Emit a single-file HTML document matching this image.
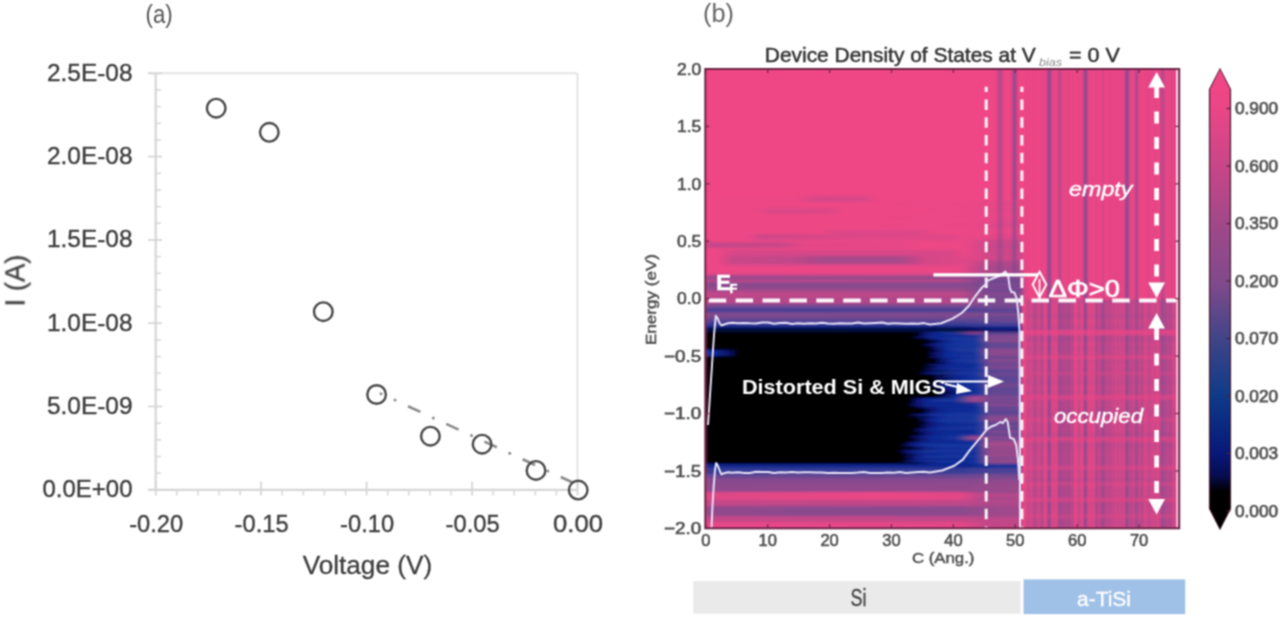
<!DOCTYPE html>
<html><head><meta charset="utf-8"><style>
html,body{margin:0;padding:0;background:#fff;width:1280px;height:618px;overflow:hidden}
svg{display:block}
text{font-family:"Liberation Sans",sans-serif}
</style></head><body>
<svg width="1280" height="618" viewBox="0 0 1280 618">
<defs>
<filter id="blur1" x="-5%" y="-5%" width="110%" height="110%"><feGaussianBlur stdDeviation="0.8"/></filter>
<filter id="blurv" x="-2%" y="-2%" width="104%" height="104%"><feGaussianBlur stdDeviation="2.2 0.9"/></filter>
<filter id="blur2" x="-5%" y="-5%" width="110%" height="110%"><feGaussianBlur stdDeviation="2"/></filter>
<linearGradient id="blobgrad" x1="705" y1="0" x2="995" y2="0" gradientUnits="userSpaceOnUse">
<stop offset="0" stop-color="#000"/><stop offset="0.62" stop-color="#000"/><stop offset="0.74" stop-color="#0a1890"/><stop offset="0.86" stop-color="#1e3aa0"/><stop offset="1" stop-color="#5a4aa0" stop-opacity="0.6"/>
</linearGradient>
<linearGradient id="midgrad" x1="0" y1="69" x2="0" y2="528" gradientUnits="userSpaceOnUse">
<stop offset="0" stop-color="#8a4a9c" stop-opacity="0.15"/><stop offset="0.35" stop-color="#8a4a9c" stop-opacity="0.3"/><stop offset="0.5" stop-color="#8a4a9c" stop-opacity="0.7"/><stop offset="1" stop-color="#8a4a9c" stop-opacity="0.6"/>
</linearGradient>
</defs>
<filter id="soft" filterUnits="userSpaceOnUse" x="0" y="0" width="1280" height="618" color-interpolation-filters="sRGB"><feConvolveMatrix order="3" kernelMatrix="1 2 1 2 4 2 1 2 1" divisor="16" edgeMode="duplicate"/></filter>
<rect width="1280" height="618" fill="#fff"/>
<g filter="url(#soft)">
<g id="left">
<line x1="148" y1="73.3" x2="577.5" y2="73.3" stroke="#e4e4e4" stroke-width="2"/>
<line x1="577.5" y1="73.3" x2="577.5" y2="489.8" stroke="#e4e4e4" stroke-width="2"/>
<line x1="155.7" y1="73.3" x2="155.7" y2="489.8" stroke="#d6d6d6" stroke-width="2.2"/>
<line x1="148" y1="489.8" x2="577.5" y2="489.8" stroke="#d6d6d6" stroke-width="2.2"/>
<line x1="148" y1="73.3" x2="162" y2="73.3" stroke="#d6d6d6" stroke-width="1.8"/>
<line x1="155.7" y1="90.0" x2="161" y2="90.0" stroke="#d6d6d6" stroke-width="1.5"/>
<line x1="155.7" y1="106.6" x2="161" y2="106.6" stroke="#d6d6d6" stroke-width="1.5"/>
<line x1="155.7" y1="123.3" x2="161" y2="123.3" stroke="#d6d6d6" stroke-width="1.5"/>
<line x1="155.7" y1="139.9" x2="161" y2="139.9" stroke="#d6d6d6" stroke-width="1.5"/>
<line x1="148" y1="156.6" x2="162" y2="156.6" stroke="#d6d6d6" stroke-width="1.8"/>
<line x1="155.7" y1="173.3" x2="161" y2="173.3" stroke="#d6d6d6" stroke-width="1.5"/>
<line x1="155.7" y1="189.9" x2="161" y2="189.9" stroke="#d6d6d6" stroke-width="1.5"/>
<line x1="155.7" y1="206.6" x2="161" y2="206.6" stroke="#d6d6d6" stroke-width="1.5"/>
<line x1="155.7" y1="223.2" x2="161" y2="223.2" stroke="#d6d6d6" stroke-width="1.5"/>
<line x1="148" y1="239.9" x2="162" y2="239.9" stroke="#d6d6d6" stroke-width="1.8"/>
<line x1="155.7" y1="256.6" x2="161" y2="256.6" stroke="#d6d6d6" stroke-width="1.5"/>
<line x1="155.7" y1="273.2" x2="161" y2="273.2" stroke="#d6d6d6" stroke-width="1.5"/>
<line x1="155.7" y1="289.9" x2="161" y2="289.9" stroke="#d6d6d6" stroke-width="1.5"/>
<line x1="155.7" y1="306.5" x2="161" y2="306.5" stroke="#d6d6d6" stroke-width="1.5"/>
<line x1="148" y1="323.2" x2="162" y2="323.2" stroke="#d6d6d6" stroke-width="1.8"/>
<line x1="155.7" y1="339.9" x2="161" y2="339.9" stroke="#d6d6d6" stroke-width="1.5"/>
<line x1="155.7" y1="356.5" x2="161" y2="356.5" stroke="#d6d6d6" stroke-width="1.5"/>
<line x1="155.7" y1="373.2" x2="161" y2="373.2" stroke="#d6d6d6" stroke-width="1.5"/>
<line x1="155.7" y1="389.8" x2="161" y2="389.8" stroke="#d6d6d6" stroke-width="1.5"/>
<line x1="148" y1="406.5" x2="162" y2="406.5" stroke="#d6d6d6" stroke-width="1.8"/>
<line x1="155.7" y1="423.2" x2="161" y2="423.2" stroke="#d6d6d6" stroke-width="1.5"/>
<line x1="155.7" y1="439.8" x2="161" y2="439.8" stroke="#d6d6d6" stroke-width="1.5"/>
<line x1="155.7" y1="456.5" x2="161" y2="456.5" stroke="#d6d6d6" stroke-width="1.5"/>
<line x1="155.7" y1="473.1" x2="161" y2="473.1" stroke="#d6d6d6" stroke-width="1.5"/>
<line x1="148" y1="489.8" x2="162" y2="489.8" stroke="#d6d6d6" stroke-width="1.8"/>
<line x1="155.7" y1="481.5" x2="155.7" y2="495.5" stroke="#d6d6d6" stroke-width="1.8"/>
<line x1="176.8" y1="489.8" x2="176.8" y2="495.5" stroke="#d6d6d6" stroke-width="1.5"/>
<line x1="197.9" y1="489.8" x2="197.9" y2="495.5" stroke="#d6d6d6" stroke-width="1.5"/>
<line x1="219.0" y1="489.8" x2="219.0" y2="495.5" stroke="#d6d6d6" stroke-width="1.5"/>
<line x1="240.1" y1="489.8" x2="240.1" y2="495.5" stroke="#d6d6d6" stroke-width="1.5"/>
<line x1="261.1" y1="481.5" x2="261.1" y2="495.5" stroke="#d6d6d6" stroke-width="1.8"/>
<line x1="282.2" y1="489.8" x2="282.2" y2="495.5" stroke="#d6d6d6" stroke-width="1.5"/>
<line x1="303.3" y1="489.8" x2="303.3" y2="495.5" stroke="#d6d6d6" stroke-width="1.5"/>
<line x1="324.4" y1="489.8" x2="324.4" y2="495.5" stroke="#d6d6d6" stroke-width="1.5"/>
<line x1="345.5" y1="489.8" x2="345.5" y2="495.5" stroke="#d6d6d6" stroke-width="1.5"/>
<line x1="366.6" y1="481.5" x2="366.6" y2="495.5" stroke="#d6d6d6" stroke-width="1.8"/>
<line x1="387.7" y1="489.8" x2="387.7" y2="495.5" stroke="#d6d6d6" stroke-width="1.5"/>
<line x1="408.8" y1="489.8" x2="408.8" y2="495.5" stroke="#d6d6d6" stroke-width="1.5"/>
<line x1="429.9" y1="489.8" x2="429.9" y2="495.5" stroke="#d6d6d6" stroke-width="1.5"/>
<line x1="451.0" y1="489.8" x2="451.0" y2="495.5" stroke="#d6d6d6" stroke-width="1.5"/>
<line x1="472.1" y1="481.5" x2="472.1" y2="495.5" stroke="#d6d6d6" stroke-width="1.8"/>
<line x1="493.1" y1="489.8" x2="493.1" y2="495.5" stroke="#d6d6d6" stroke-width="1.5"/>
<line x1="514.2" y1="489.8" x2="514.2" y2="495.5" stroke="#d6d6d6" stroke-width="1.5"/>
<line x1="535.3" y1="489.8" x2="535.3" y2="495.5" stroke="#d6d6d6" stroke-width="1.5"/>
<line x1="556.4" y1="489.8" x2="556.4" y2="495.5" stroke="#d6d6d6" stroke-width="1.5"/>
<line x1="577.5" y1="481.5" x2="577.5" y2="495.5" stroke="#d6d6d6" stroke-width="1.8"/>
<text x="132.5" y="80.7" text-anchor="end" font-size="24" fill="#3d3d3d" stroke="#3d3d3d" stroke-width="0.35" textLength="85.5" lengthAdjust="spacingAndGlyphs">2.5E-08</text>
<text x="132.5" y="164.0" text-anchor="end" font-size="24" fill="#3d3d3d" stroke="#3d3d3d" stroke-width="0.35" textLength="85.5" lengthAdjust="spacingAndGlyphs">2.0E-08</text>
<text x="132.5" y="247.3" text-anchor="end" font-size="24" fill="#3d3d3d" stroke="#3d3d3d" stroke-width="0.35" textLength="85.5" lengthAdjust="spacingAndGlyphs">1.5E-08</text>
<text x="132.5" y="330.6" text-anchor="end" font-size="24" fill="#3d3d3d" stroke="#3d3d3d" stroke-width="0.35" textLength="85.5" lengthAdjust="spacingAndGlyphs">1.0E-08</text>
<text x="132.5" y="413.9" text-anchor="end" font-size="24" fill="#3d3d3d" stroke="#3d3d3d" stroke-width="0.35" textLength="85.5" lengthAdjust="spacingAndGlyphs">5.0E-09</text>
<text x="132.5" y="497.2" text-anchor="end" font-size="24" fill="#3d3d3d" stroke="#3d3d3d" stroke-width="0.35" textLength="90" lengthAdjust="spacingAndGlyphs">0.0E+00</text>
<text x="156.2" y="532" text-anchor="middle" font-size="24" fill="#3d3d3d" stroke="#3d3d3d" stroke-width="0.35" textLength="54" lengthAdjust="spacingAndGlyphs">-0.20</text>
<text x="261.6" y="532" text-anchor="middle" font-size="24" fill="#3d3d3d" stroke="#3d3d3d" stroke-width="0.35" textLength="54" lengthAdjust="spacingAndGlyphs">-0.15</text>
<text x="367.1" y="532" text-anchor="middle" font-size="24" fill="#3d3d3d" stroke="#3d3d3d" stroke-width="0.35" textLength="54" lengthAdjust="spacingAndGlyphs">-0.10</text>
<text x="472.6" y="532" text-anchor="middle" font-size="24" fill="#3d3d3d" stroke="#3d3d3d" stroke-width="0.35" textLength="54" lengthAdjust="spacingAndGlyphs">-0.05</text>
<text x="578.0" y="532" text-anchor="middle" font-size="24" fill="#3d3d3d" stroke="#3d3d3d" stroke-width="0.35" textLength="50" lengthAdjust="spacingAndGlyphs">0.00</text>
<text x="367.4" y="574" text-anchor="middle" font-size="26" fill="#3d3d3d" stroke="#3d3d3d" stroke-width="0.3" textLength="129.5" lengthAdjust="spacingAndGlyphs">Voltage (V)</text>
<text transform="translate(24.5,280.5) rotate(-90)" text-anchor="middle" font-size="27" fill="#3d3d3d" stroke="#3d3d3d" stroke-width="0.3" textLength="52" lengthAdjust="spacingAndGlyphs">I (A)</text>
<text x="145.5" y="23" font-family="Liberation Serif" font-size="25" fill="#555" textLength="27.2" lengthAdjust="spacingAndGlyphs">(a)</text>
<circle cx="381" cy="393.7" r="1.5" fill="#8a8a8a"/>
<circle cx="395" cy="400.1" r="1.5" fill="#8a8a8a"/>
<line x1="408.0" y1="406.2" x2="420.4" y2="411.9" stroke="#8a8a8a" stroke-width="2.6"/>
<circle cx="433.3" cy="417.9" r="1.5" fill="#8a8a8a"/>
<line x1="446.2" y1="423.9" x2="458.6" y2="429.6" stroke="#8a8a8a" stroke-width="2.6"/>
<circle cx="471.5" cy="435.6" r="1.5" fill="#8a8a8a"/>
<line x1="484.4" y1="441.6" x2="496.8" y2="447.3" stroke="#8a8a8a" stroke-width="2.6"/>
<circle cx="509.7" cy="453.3" r="1.5" fill="#8a8a8a"/>
<line x1="522.6" y1="459.3" x2="535.0" y2="465.0" stroke="#8a8a8a" stroke-width="2.6"/>
<circle cx="547.9" cy="471.0" r="1.5" fill="#8a8a8a"/>
<line x1="560.8" y1="477.0" x2="573.2" y2="482.7" stroke="#8a8a8a" stroke-width="2.6"/>
<circle cx="216.2" cy="108.2" r="9.3" fill="none" stroke="#474747" stroke-width="2.4"/>
<circle cx="269.3" cy="132.3" r="9.3" fill="none" stroke="#474747" stroke-width="2.4"/>
<circle cx="323.3" cy="311.7" r="9.3" fill="none" stroke="#474747" stroke-width="2.4"/>
<circle cx="376.6" cy="394.5" r="9.3" fill="none" stroke="#474747" stroke-width="2.4"/>
<circle cx="430.4" cy="436.2" r="9.3" fill="none" stroke="#474747" stroke-width="2.4"/>
<circle cx="482.1" cy="444.2" r="9.3" fill="none" stroke="#474747" stroke-width="2.4"/>
<circle cx="536" cy="470.4" r="9.3" fill="none" stroke="#474747" stroke-width="2.4"/>
<circle cx="578.2" cy="490.1" r="9.3" fill="none" stroke="#474747" stroke-width="2.4"/>
</g>
<g id="right">
<clipPath id="hmclip"><rect x="705.3" y="69.0" width="473.9000000000001" height="459.29999999999995"/></clipPath>
<g clip-path="url(#hmclip)">
<rect x="705.3" y="69.0" width="470.70000000000005" height="459.29999999999995" fill="#ef4685"/>
<rect x="1176" y="69.0" width="3.2000000000000455" height="459.29999999999995" fill="#f6d6e4"/>
<defs><linearGradient id="r0" x1="705" x2="1023" y1="0" y2="0" gradientUnits="userSpaceOnUse"><stop offset="0.000" stop-color="#ef4685"/><stop offset="0.283" stop-color="#ec4686"/><stop offset="0.358" stop-color="#d64687"/><stop offset="0.491" stop-color="#d84687"/><stop offset="0.557" stop-color="#ef4685"/><stop offset="1.000" stop-color="#ef4685"/></linearGradient>
<linearGradient id="r1" x1="705" x2="1023" y1="0" y2="0" gradientUnits="userSpaceOnUse"><stop offset="0.000" stop-color="#ef4685"/><stop offset="0.283" stop-color="#ec4686"/><stop offset="0.358" stop-color="#d64687"/><stop offset="0.491" stop-color="#d84687"/><stop offset="0.557" stop-color="#ef4685"/><stop offset="1.000" stop-color="#ef4685"/></linearGradient>
<linearGradient id="r2" x1="705" x2="1023" y1="0" y2="0" gradientUnits="userSpaceOnUse"><stop offset="0.000" stop-color="#ef4685"/><stop offset="0.283" stop-color="#ec4686"/><stop offset="0.358" stop-color="#d64687"/><stop offset="0.491" stop-color="#d84687"/><stop offset="0.557" stop-color="#ef4685"/><stop offset="0.868" stop-color="#ea4686"/><stop offset="1.000" stop-color="#e84686"/></linearGradient>
<linearGradient id="r3" x1="705" x2="1023" y1="0" y2="0" gradientUnits="userSpaceOnUse"><stop offset="0.000" stop-color="#ef4685"/><stop offset="0.830" stop-color="#eb4686"/><stop offset="0.915" stop-color="#e04687"/><stop offset="1.000" stop-color="#e04687"/></linearGradient>
<linearGradient id="r4" x1="705" x2="1023" y1="0" y2="0" gradientUnits="userSpaceOnUse"><stop offset="0.000" stop-color="#ef4685"/><stop offset="0.840" stop-color="#eb4686"/><stop offset="0.972" stop-color="#e44686"/><stop offset="1.000" stop-color="#e44686"/></linearGradient>
<linearGradient id="r5" x1="705" x2="1023" y1="0" y2="0" gradientUnits="userSpaceOnUse"><stop offset="0.000" stop-color="#ef4685"/><stop offset="0.849" stop-color="#eb4686"/><stop offset="1.000" stop-color="#e64686"/></linearGradient>
<linearGradient id="r6" x1="705" x2="1023" y1="0" y2="0" gradientUnits="userSpaceOnUse"><stop offset="0.000" stop-color="#ef4685"/><stop offset="0.160" stop-color="#eb4686"/><stop offset="0.217" stop-color="#da4687"/><stop offset="0.387" stop-color="#de4687"/><stop offset="0.443" stop-color="#ef4685"/><stop offset="0.840" stop-color="#eb4686"/><stop offset="0.953" stop-color="#e34686"/><stop offset="1.000" stop-color="#e34686"/></linearGradient>
<linearGradient id="r7" x1="705" x2="1023" y1="0" y2="0" gradientUnits="userSpaceOnUse"><stop offset="0.000" stop-color="#ef4685"/><stop offset="0.160" stop-color="#eb4686"/><stop offset="0.217" stop-color="#da4687"/><stop offset="0.387" stop-color="#de4687"/><stop offset="0.443" stop-color="#ef4685"/><stop offset="0.840" stop-color="#eb4686"/><stop offset="0.925" stop-color="#e24687"/><stop offset="1.000" stop-color="#e24687"/></linearGradient>
<linearGradient id="r8" x1="705" x2="1023" y1="0" y2="0" gradientUnits="userSpaceOnUse"><stop offset="0.000" stop-color="#ef4685"/><stop offset="0.160" stop-color="#eb4686"/><stop offset="0.217" stop-color="#da4687"/><stop offset="0.387" stop-color="#de4687"/><stop offset="0.443" stop-color="#ef4685"/><stop offset="0.840" stop-color="#eb4686"/><stop offset="1.000" stop-color="#e54686"/></linearGradient>
<linearGradient id="r9" x1="705" x2="1023" y1="0" y2="0" gradientUnits="userSpaceOnUse"><stop offset="0.000" stop-color="#ef4685"/><stop offset="0.840" stop-color="#eb4686"/><stop offset="0.981" stop-color="#e54686"/><stop offset="1.000" stop-color="#e54686"/></linearGradient>
<linearGradient id="r10" x1="705" x2="1023" y1="0" y2="0" gradientUnits="userSpaceOnUse"><stop offset="0.000" stop-color="#ef4685"/><stop offset="0.858" stop-color="#eb4686"/><stop offset="1.000" stop-color="#e84686"/></linearGradient>
<linearGradient id="r11" x1="705" x2="1023" y1="0" y2="0" gradientUnits="userSpaceOnUse"><stop offset="0.000" stop-color="#ef4685"/><stop offset="0.840" stop-color="#eb4686"/><stop offset="0.943" stop-color="#e44686"/><stop offset="1.000" stop-color="#e44686"/></linearGradient>
<linearGradient id="r12" x1="705" x2="1023" y1="0" y2="0" gradientUnits="userSpaceOnUse"><stop offset="0.000" stop-color="#ef4685"/><stop offset="0.830" stop-color="#ec4686"/><stop offset="0.915" stop-color="#e14687"/><stop offset="1.000" stop-color="#e14687"/></linearGradient>
<linearGradient id="r13" x1="705" x2="1023" y1="0" y2="0" gradientUnits="userSpaceOnUse"><stop offset="0.000" stop-color="#ef4685"/><stop offset="0.840" stop-color="#eb4686"/><stop offset="0.934" stop-color="#e34687"/><stop offset="1.000" stop-color="#e34687"/></linearGradient>
<linearGradient id="r14" x1="705" x2="1023" y1="0" y2="0" gradientUnits="userSpaceOnUse"><stop offset="0.000" stop-color="#ef4685"/><stop offset="0.830" stop-color="#eb4686"/><stop offset="0.906" stop-color="#df4687"/><stop offset="1.000" stop-color="#df4687"/></linearGradient>
<linearGradient id="r15" x1="705" x2="1023" y1="0" y2="0" gradientUnits="userSpaceOnUse"><stop offset="0.000" stop-color="#ef4685"/><stop offset="0.830" stop-color="#eb4686"/><stop offset="0.906" stop-color="#df4687"/><stop offset="1.000" stop-color="#df4687"/></linearGradient>
<linearGradient id="r16" x1="705" x2="1023" y1="0" y2="0" gradientUnits="userSpaceOnUse"><stop offset="0.000" stop-color="#ef4685"/><stop offset="0.849" stop-color="#eb4686"/><stop offset="1.000" stop-color="#e64686"/></linearGradient>
<linearGradient id="r17" x1="705" x2="1023" y1="0" y2="0" gradientUnits="userSpaceOnUse"><stop offset="0.000" stop-color="#ef4685"/><stop offset="0.358" stop-color="#ec4686"/><stop offset="0.425" stop-color="#da4687"/><stop offset="0.670" stop-color="#de4687"/><stop offset="0.726" stop-color="#ef4685"/><stop offset="1.000" stop-color="#e94686"/></linearGradient>
<linearGradient id="r18" x1="705" x2="1023" y1="0" y2="0" gradientUnits="userSpaceOnUse"><stop offset="0.000" stop-color="#ef4685"/><stop offset="0.358" stop-color="#ec4686"/><stop offset="0.425" stop-color="#da4687"/><stop offset="0.670" stop-color="#de4687"/><stop offset="0.726" stop-color="#ef4685"/><stop offset="1.000" stop-color="#e74686"/></linearGradient>
<linearGradient id="r19" x1="705" x2="1023" y1="0" y2="0" gradientUnits="userSpaceOnUse"><stop offset="0.000" stop-color="#ef4685"/><stop offset="0.132" stop-color="#ec4686"/><stop offset="0.179" stop-color="#ce4688"/><stop offset="0.349" stop-color="#d94687"/><stop offset="0.538" stop-color="#de4687"/><stop offset="0.774" stop-color="#e04687"/><stop offset="0.821" stop-color="#ed4685"/><stop offset="0.934" stop-color="#e44686"/><stop offset="1.000" stop-color="#e44686"/></linearGradient>
<linearGradient id="r20" x1="705" x2="1023" y1="0" y2="0" gradientUnits="userSpaceOnUse"><stop offset="0.000" stop-color="#ef4685"/><stop offset="0.132" stop-color="#ec4686"/><stop offset="0.179" stop-color="#ce4688"/><stop offset="0.349" stop-color="#d94687"/><stop offset="0.538" stop-color="#de4687"/><stop offset="0.774" stop-color="#e04687"/><stop offset="0.821" stop-color="#ed4685"/><stop offset="0.915" stop-color="#df4687"/><stop offset="1.000" stop-color="#df4687"/></linearGradient>
<linearGradient id="r21" x1="705" x2="1023" y1="0" y2="0" gradientUnits="userSpaceOnUse"><stop offset="0.000" stop-color="#ef4685"/><stop offset="0.132" stop-color="#ec4686"/><stop offset="0.179" stop-color="#ce4688"/><stop offset="0.349" stop-color="#d94687"/><stop offset="0.538" stop-color="#de4687"/><stop offset="0.774" stop-color="#e04687"/><stop offset="0.821" stop-color="#ed4685"/><stop offset="0.925" stop-color="#e24687"/><stop offset="1.000" stop-color="#e24687"/></linearGradient>
<linearGradient id="r22" x1="705" x2="1023" y1="0" y2="0" gradientUnits="userSpaceOnUse"><stop offset="0.000" stop-color="#ef4685"/><stop offset="0.811" stop-color="#ec4686"/><stop offset="0.887" stop-color="#c34789"/><stop offset="1.000" stop-color="#c14789"/></linearGradient>
<linearGradient id="r23" x1="705" x2="1023" y1="0" y2="0" gradientUnits="userSpaceOnUse"><stop offset="0.000" stop-color="#d44688"/><stop offset="0.028" stop-color="#c34789"/><stop offset="0.236" stop-color="#c84688"/><stop offset="0.311" stop-color="#e34687"/><stop offset="0.623" stop-color="#e64686"/><stop offset="0.689" stop-color="#ef4685"/><stop offset="0.821" stop-color="#eb4686"/><stop offset="0.896" stop-color="#d44688"/><stop offset="1.000" stop-color="#d44688"/></linearGradient>
<linearGradient id="r24" x1="705" x2="1023" y1="0" y2="0" gradientUnits="userSpaceOnUse"><stop offset="0.000" stop-color="#d44688"/><stop offset="0.028" stop-color="#c34789"/><stop offset="0.236" stop-color="#c84688"/><stop offset="0.311" stop-color="#e34687"/><stop offset="0.623" stop-color="#e64686"/><stop offset="0.689" stop-color="#ef4685"/><stop offset="0.811" stop-color="#ec4686"/><stop offset="0.887" stop-color="#c74688"/><stop offset="1.000" stop-color="#c64688"/></linearGradient>
<linearGradient id="r25" x1="705" x2="1023" y1="0" y2="0" gradientUnits="userSpaceOnUse"><stop offset="0.000" stop-color="#d44688"/><stop offset="0.028" stop-color="#c34789"/><stop offset="0.236" stop-color="#c84688"/><stop offset="0.311" stop-color="#e34687"/><stop offset="0.623" stop-color="#e64686"/><stop offset="0.689" stop-color="#ef4685"/><stop offset="0.811" stop-color="#ec4686"/><stop offset="0.896" stop-color="#c74688"/><stop offset="1.000" stop-color="#c74688"/></linearGradient>
<linearGradient id="r26" x1="705" x2="1023" y1="0" y2="0" gradientUnits="userSpaceOnUse"><stop offset="0.000" stop-color="#ef4685"/><stop offset="0.811" stop-color="#ec4686"/><stop offset="0.896" stop-color="#cb4688"/><stop offset="1.000" stop-color="#cb4688"/></linearGradient>
<linearGradient id="r27" x1="705" x2="1023" y1="0" y2="0" gradientUnits="userSpaceOnUse"><stop offset="0.000" stop-color="#ef4685"/><stop offset="0.047" stop-color="#ea4686"/><stop offset="0.085" stop-color="#d64687"/><stop offset="0.774" stop-color="#d84687"/><stop offset="0.811" stop-color="#eb4686"/><stop offset="0.896" stop-color="#d14688"/><stop offset="1.000" stop-color="#d14688"/></linearGradient>
<linearGradient id="r28" x1="705" x2="1023" y1="0" y2="0" gradientUnits="userSpaceOnUse"><stop offset="0.000" stop-color="#ef4685"/><stop offset="0.047" stop-color="#ea4686"/><stop offset="0.085" stop-color="#d64687"/><stop offset="0.774" stop-color="#d84687"/><stop offset="0.811" stop-color="#eb4686"/><stop offset="0.896" stop-color="#ce4688"/><stop offset="1.000" stop-color="#ce4688"/></linearGradient>
<linearGradient id="r29" x1="705" x2="1023" y1="0" y2="0" gradientUnits="userSpaceOnUse"><stop offset="0.000" stop-color="#ef4685"/><stop offset="0.047" stop-color="#ea4686"/><stop offset="0.085" stop-color="#d64687"/><stop offset="0.774" stop-color="#d84687"/><stop offset="0.811" stop-color="#ea4686"/><stop offset="0.896" stop-color="#cb4688"/><stop offset="1.000" stop-color="#cb4688"/></linearGradient>
<linearGradient id="r30" x1="705" x2="1023" y1="0" y2="0" gradientUnits="userSpaceOnUse"><stop offset="0.000" stop-color="#ef4685"/><stop offset="0.038" stop-color="#ec4686"/><stop offset="0.085" stop-color="#c84688"/><stop offset="0.274" stop-color="#c14789"/><stop offset="0.377" stop-color="#a6488a"/><stop offset="0.613" stop-color="#a6488a"/><stop offset="0.698" stop-color="#d54687"/><stop offset="0.840" stop-color="#e24687"/><stop offset="0.906" stop-color="#d44688"/><stop offset="1.000" stop-color="#d44688"/></linearGradient>
<linearGradient id="r31" x1="705" x2="1023" y1="0" y2="0" gradientUnits="userSpaceOnUse"><stop offset="0.000" stop-color="#ef4685"/><stop offset="0.038" stop-color="#ec4686"/><stop offset="0.085" stop-color="#c84688"/><stop offset="0.274" stop-color="#c14789"/><stop offset="0.377" stop-color="#a6488a"/><stop offset="0.613" stop-color="#a6488a"/><stop offset="0.698" stop-color="#d54687"/><stop offset="0.840" stop-color="#e14687"/><stop offset="0.906" stop-color="#d24688"/><stop offset="1.000" stop-color="#d24688"/></linearGradient>
<linearGradient id="r32" x1="705" x2="1023" y1="0" y2="0" gradientUnits="userSpaceOnUse"><stop offset="0.000" stop-color="#ef4685"/><stop offset="0.038" stop-color="#ec4686"/><stop offset="0.085" stop-color="#c84688"/><stop offset="0.274" stop-color="#c14789"/><stop offset="0.377" stop-color="#a6488a"/><stop offset="0.613" stop-color="#a6488a"/><stop offset="0.698" stop-color="#d54687"/><stop offset="0.830" stop-color="#dc4687"/><stop offset="0.896" stop-color="#ba4789"/><stop offset="1.000" stop-color="#ba4789"/></linearGradient>
<linearGradient id="r33" x1="705" x2="1023" y1="0" y2="0" gradientUnits="userSpaceOnUse"><stop offset="0.000" stop-color="#ef4685"/><stop offset="0.038" stop-color="#ec4686"/><stop offset="0.085" stop-color="#c84688"/><stop offset="0.274" stop-color="#c14789"/><stop offset="0.377" stop-color="#a6488a"/><stop offset="0.613" stop-color="#a6488a"/><stop offset="0.698" stop-color="#d54687"/><stop offset="0.821" stop-color="#dd4687"/><stop offset="0.858" stop-color="#ca4688"/><stop offset="0.896" stop-color="#b64789"/><stop offset="1.000" stop-color="#b64789"/></linearGradient>
<linearGradient id="r34" x1="705" x2="1023" y1="0" y2="0" gradientUnits="userSpaceOnUse"><stop offset="0.000" stop-color="#ef4685"/><stop offset="0.047" stop-color="#eb4686"/><stop offset="0.085" stop-color="#da4687"/><stop offset="0.774" stop-color="#dc4687"/><stop offset="0.811" stop-color="#e94686"/><stop offset="0.887" stop-color="#b24789"/><stop offset="1.000" stop-color="#b04789"/></linearGradient>
<linearGradient id="r35" x1="705" x2="1023" y1="0" y2="0" gradientUnits="userSpaceOnUse"><stop offset="0.000" stop-color="#ec4686"/><stop offset="0.802" stop-color="#ea4686"/><stop offset="0.887" stop-color="#ae488a"/><stop offset="1.000" stop-color="#ac488a"/></linearGradient>
<linearGradient id="r36" x1="705" x2="1023" y1="0" y2="0" gradientUnits="userSpaceOnUse"><stop offset="0.000" stop-color="#ec4686"/><stop offset="0.802" stop-color="#ea4686"/><stop offset="0.849" stop-color="#c34789"/><stop offset="0.877" stop-color="#a7488a"/><stop offset="0.934" stop-color="#a1488b"/><stop offset="1.000" stop-color="#a1488b"/></linearGradient>
<linearGradient id="r37" x1="705" x2="1023" y1="0" y2="0" gradientUnits="userSpaceOnUse"><stop offset="0.000" stop-color="#ec4686"/><stop offset="0.802" stop-color="#ea4686"/><stop offset="0.887" stop-color="#b74789"/><stop offset="1.000" stop-color="#b54789"/></linearGradient>
<linearGradient id="r38" x1="705" x2="1023" y1="0" y2="0" gradientUnits="userSpaceOnUse"><stop offset="0.000" stop-color="#ec4686"/><stop offset="0.802" stop-color="#ea4686"/><stop offset="0.858" stop-color="#c24789"/><stop offset="0.896" stop-color="#ae488a"/><stop offset="1.000" stop-color="#ae488a"/></linearGradient>
<linearGradient id="r39" x1="705" x2="1023" y1="0" y2="0" gradientUnits="userSpaceOnUse"><stop offset="0.000" stop-color="#c84688"/><stop offset="0.802" stop-color="#c44688"/><stop offset="0.877" stop-color="#854a8e"/><stop offset="0.934" stop-color="#7f4a8e"/><stop offset="1.000" stop-color="#7f4a8e"/></linearGradient>
<linearGradient id="r40" x1="705" x2="1023" y1="0" y2="0" gradientUnits="userSpaceOnUse"><stop offset="0.000" stop-color="#97498c"/><stop offset="0.811" stop-color="#94498c"/><stop offset="0.896" stop-color="#7b498f"/><stop offset="1.000" stop-color="#7b498f"/></linearGradient>
<linearGradient id="r41" x1="705" x2="1023" y1="0" y2="0" gradientUnits="userSpaceOnUse"><stop offset="0.000" stop-color="#97498c"/><stop offset="0.821" stop-color="#93498c"/><stop offset="0.915" stop-color="#844a8e"/><stop offset="1.000" stop-color="#844a8e"/></linearGradient>
<linearGradient id="r42" x1="705" x2="1023" y1="0" y2="0" gradientUnits="userSpaceOnUse"><stop offset="0.000" stop-color="#c34789"/><stop offset="0.792" stop-color="#c24789"/><stop offset="0.821" stop-color="#ae488a"/><stop offset="0.887" stop-color="#6d4791"/><stop offset="1.000" stop-color="#6b4791"/></linearGradient>
<linearGradient id="r43" x1="705" x2="1023" y1="0" y2="0" gradientUnits="userSpaceOnUse"><stop offset="0.000" stop-color="#894a8d"/><stop offset="0.821" stop-color="#854a8e"/><stop offset="0.896" stop-color="#754890"/><stop offset="1.000" stop-color="#754890"/></linearGradient>
<linearGradient id="r44" x1="705" x2="1023" y1="0" y2="0" gradientUnits="userSpaceOnUse"><stop offset="0.000" stop-color="#894a8d"/><stop offset="0.840" stop-color="#854a8e"/><stop offset="1.000" stop-color="#7f4a8e"/></linearGradient>
<linearGradient id="r45" x1="705" x2="1023" y1="0" y2="0" gradientUnits="userSpaceOnUse"><stop offset="0.000" stop-color="#894a8d"/><stop offset="0.811" stop-color="#864a8e"/><stop offset="0.896" stop-color="#6f4791"/><stop offset="1.000" stop-color="#6f4791"/></linearGradient>
<linearGradient id="r46" x1="705" x2="1023" y1="0" y2="0" gradientUnits="userSpaceOnUse"><stop offset="0.000" stop-color="#9c498b"/><stop offset="0.811" stop-color="#99498b"/><stop offset="0.896" stop-color="#824a8e"/><stop offset="1.000" stop-color="#824a8e"/></linearGradient>
<linearGradient id="r47" x1="705" x2="1023" y1="0" y2="0" gradientUnits="userSpaceOnUse"><stop offset="0.000" stop-color="#9c498b"/><stop offset="0.802" stop-color="#9a498b"/><stop offset="0.887" stop-color="#674692"/><stop offset="1.000" stop-color="#664692"/></linearGradient>
<linearGradient id="r48" x1="705" x2="1023" y1="0" y2="0" gradientUnits="userSpaceOnUse"><stop offset="0.000" stop-color="#c34789"/><stop offset="0.802" stop-color="#bf4789"/><stop offset="0.877" stop-color="#884a8d"/><stop offset="1.000" stop-color="#844a8e"/></linearGradient>
<linearGradient id="r49" x1="705" x2="1023" y1="0" y2="0" gradientUnits="userSpaceOnUse"><stop offset="0.000" stop-color="#c34789"/><stop offset="0.802" stop-color="#bf4789"/><stop offset="0.877" stop-color="#884a8d"/><stop offset="0.972" stop-color="#834a8e"/><stop offset="1.000" stop-color="#834a8e"/></linearGradient>
<linearGradient id="r50" x1="705" x2="1023" y1="0" y2="0" gradientUnits="userSpaceOnUse"><stop offset="0.000" stop-color="#b74789"/><stop offset="0.802" stop-color="#b34789"/><stop offset="0.887" stop-color="#724890"/><stop offset="1.000" stop-color="#704890"/></linearGradient>
<linearGradient id="r51" x1="705" x2="1023" y1="0" y2="0" gradientUnits="userSpaceOnUse"><stop offset="0.000" stop-color="#b74789"/><stop offset="0.802" stop-color="#b44789"/><stop offset="0.887" stop-color="#864a8e"/><stop offset="1.000" stop-color="#854a8e"/></linearGradient>
<linearGradient id="r52" x1="705" x2="1023" y1="0" y2="0" gradientUnits="userSpaceOnUse"><stop offset="0.000" stop-color="#b74789"/><stop offset="0.802" stop-color="#b34789"/><stop offset="0.887" stop-color="#744890"/><stop offset="1.000" stop-color="#724890"/></linearGradient>
<linearGradient id="r53" x1="705" x2="1023" y1="0" y2="0" gradientUnits="userSpaceOnUse"><stop offset="0.000" stop-color="#b74789"/><stop offset="0.802" stop-color="#b44789"/><stop offset="0.887" stop-color="#854a8e"/><stop offset="1.000" stop-color="#844a8e"/></linearGradient>
<linearGradient id="r54" x1="705" x2="1023" y1="0" y2="0" gradientUnits="userSpaceOnUse"><stop offset="0.000" stop-color="#774890"/><stop offset="0.849" stop-color="#734890"/><stop offset="1.000" stop-color="#704890"/></linearGradient>
<linearGradient id="r55" x1="705" x2="1023" y1="0" y2="0" gradientUnits="userSpaceOnUse"><stop offset="0.000" stop-color="#774890"/><stop offset="1.000" stop-color="#7a498f"/></linearGradient>
<linearGradient id="r56" x1="705" x2="1023" y1="0" y2="0" gradientUnits="userSpaceOnUse"><stop offset="0.000" stop-color="#424095"/><stop offset="0.811" stop-color="#454195"/><stop offset="0.896" stop-color="#584494"/><stop offset="1.000" stop-color="#584494"/></linearGradient>
<linearGradient id="r57" x1="705" x2="1023" y1="0" y2="0" gradientUnits="userSpaceOnUse"><stop offset="0.000" stop-color="#424095"/><stop offset="0.811" stop-color="#454195"/><stop offset="0.896" stop-color="#584494"/><stop offset="1.000" stop-color="#584494"/></linearGradient>
<linearGradient id="r58" x1="705" x2="1023" y1="0" y2="0" gradientUnits="userSpaceOnUse"><stop offset="0.000" stop-color="#7e498f"/><stop offset="0.821" stop-color="#7a498f"/><stop offset="0.925" stop-color="#6f4791"/><stop offset="1.000" stop-color="#6f4791"/></linearGradient>
<linearGradient id="r59" x1="705" x2="1023" y1="0" y2="0" gradientUnits="userSpaceOnUse"><stop offset="0.000" stop-color="#7e498f"/><stop offset="0.877" stop-color="#824a8e"/><stop offset="1.000" stop-color="#834a8e"/></linearGradient>
<linearGradient id="r60" x1="705" x2="1023" y1="0" y2="0" gradientUnits="userSpaceOnUse"><stop offset="0.000" stop-color="#7e498f"/><stop offset="0.811" stop-color="#7a498f"/><stop offset="0.896" stop-color="#644692"/><stop offset="1.000" stop-color="#644692"/></linearGradient>
<linearGradient id="r61" x1="705" x2="1023" y1="0" y2="0" gradientUnits="userSpaceOnUse"><stop offset="0.000" stop-color="#5b4593"/><stop offset="0.821" stop-color="#5f4593"/><stop offset="0.906" stop-color="#6c4791"/><stop offset="1.000" stop-color="#6c4791"/></linearGradient>
<linearGradient id="r62" x1="705" x2="1023" y1="0" y2="0" gradientUnits="userSpaceOnUse"><stop offset="0.000" stop-color="#5b4593"/><stop offset="0.821" stop-color="#5f4593"/><stop offset="0.934" stop-color="#6a4791"/><stop offset="1.000" stop-color="#6a4791"/></linearGradient>
<linearGradient id="r63" x1="705" x2="1023" y1="0" y2="0" gradientUnits="userSpaceOnUse"><stop offset="0.000" stop-color="#353e97"/><stop offset="0.811" stop-color="#383e96"/><stop offset="0.906" stop-color="#4b4295"/><stop offset="1.000" stop-color="#4b4295"/></linearGradient>
<linearGradient id="r64" x1="705" x2="1023" y1="0" y2="0" gradientUnits="userSpaceOnUse"><stop offset="0.000" stop-color="#353e97"/><stop offset="0.811" stop-color="#383e96"/><stop offset="0.906" stop-color="#4b4295"/><stop offset="1.000" stop-color="#4b4295"/></linearGradient>
<linearGradient id="r65" x1="705" x2="1023" y1="0" y2="0" gradientUnits="userSpaceOnUse"><stop offset="0.000" stop-color="#091a7b"/><stop offset="0.811" stop-color="#091c7e"/><stop offset="0.906" stop-color="#0d2792"/><stop offset="1.000" stop-color="#0d2792"/></linearGradient>
<linearGradient id="r66" x1="705" x2="1023" y1="0" y2="0" gradientUnits="userSpaceOnUse"><stop offset="0.000" stop-color="#040939"/><stop offset="0.792" stop-color="#04093a"/><stop offset="0.840" stop-color="#060f5a"/><stop offset="0.896" stop-color="#08156e"/><stop offset="1.000" stop-color="#08156e"/></linearGradient>
<linearGradient id="r67" x1="705" x2="1023" y1="0" y2="0" gradientUnits="userSpaceOnUse"><stop offset="0.000" stop-color="#040939"/><stop offset="0.792" stop-color="#04093a"/><stop offset="0.840" stop-color="#060f5a"/><stop offset="0.896" stop-color="#08156e"/><stop offset="1.000" stop-color="#08156e"/></linearGradient>
<linearGradient id="r68" x1="705" x2="1023" y1="0" y2="0" gradientUnits="userSpaceOnUse"><stop offset="0.000" stop-color="#000000"/><stop offset="0.660" stop-color="#000000"/><stop offset="0.670" stop-color="#02041c"/><stop offset="0.679" stop-color="#060d53"/><stop offset="0.698" stop-color="#091c7f"/><stop offset="0.717" stop-color="#0f2c97"/><stop offset="0.755" stop-color="#1b389d"/><stop offset="0.774" stop-color="#1b399d"/><stop offset="0.792" stop-color="#353e96"/><stop offset="0.830" stop-color="#8b498d"/><stop offset="0.849" stop-color="#9f488b"/><stop offset="0.858" stop-color="#9b498b"/><stop offset="0.896" stop-color="#5d4593"/><stop offset="1.000" stop-color="#5b4593"/></linearGradient>
<linearGradient id="r69" x1="705" x2="1023" y1="0" y2="0" gradientUnits="userSpaceOnUse"><stop offset="0.000" stop-color="#000000"/><stop offset="0.660" stop-color="#000000"/><stop offset="0.670" stop-color="#02041a"/><stop offset="0.679" stop-color="#050b47"/><stop offset="0.698" stop-color="#08156e"/><stop offset="0.726" stop-color="#0c238a"/><stop offset="0.783" stop-color="#0d2690"/><stop offset="0.840" stop-color="#0d2690"/><stop offset="0.858" stop-color="#15349c"/><stop offset="0.887" stop-color="#604593"/><stop offset="0.896" stop-color="#6d4791"/><stop offset="1.000" stop-color="#704890"/></linearGradient>
<linearGradient id="r70" x1="705" x2="1023" y1="0" y2="0" gradientUnits="userSpaceOnUse"><stop offset="0.000" stop-color="#000000"/><stop offset="0.642" stop-color="#000000"/><stop offset="0.651" stop-color="#010314"/><stop offset="0.660" stop-color="#050a46"/><stop offset="0.679" stop-color="#081774"/><stop offset="0.708" stop-color="#0e2994"/><stop offset="0.802" stop-color="#112e98"/><stop offset="0.849" stop-color="#14339b"/><stop offset="0.858" stop-color="#273b9a"/><stop offset="0.877" stop-color="#684791"/><stop offset="0.887" stop-color="#814a8e"/><stop offset="0.896" stop-color="#8d498d"/><stop offset="1.000" stop-color="#8f498d"/></linearGradient>
<linearGradient id="r71" x1="705" x2="1023" y1="0" y2="0" gradientUnits="userSpaceOnUse"><stop offset="0.000" stop-color="#000000"/><stop offset="0.679" stop-color="#000000"/><stop offset="0.689" stop-color="#02051e"/><stop offset="0.698" stop-color="#060d54"/><stop offset="0.717" stop-color="#091c7f"/><stop offset="0.736" stop-color="#0f2c97"/><stop offset="0.774" stop-color="#1a389e"/><stop offset="0.840" stop-color="#1a389e"/><stop offset="0.849" stop-color="#203a9c"/><stop offset="0.887" stop-color="#694791"/><stop offset="0.906" stop-color="#754890"/><stop offset="1.000" stop-color="#754890"/></linearGradient>
<linearGradient id="r72" x1="705" x2="1023" y1="0" y2="0" gradientUnits="userSpaceOnUse"><stop offset="0.000" stop-color="#000000"/><stop offset="0.717" stop-color="#000000"/><stop offset="0.726" stop-color="#020317"/><stop offset="0.736" stop-color="#060b4d"/><stop offset="0.755" stop-color="#081879"/><stop offset="0.783" stop-color="#0f2c97"/><stop offset="0.849" stop-color="#17369d"/><stop offset="0.858" stop-color="#2d3c99"/><stop offset="0.877" stop-color="#6a4791"/><stop offset="0.887" stop-color="#824a8e"/><stop offset="0.896" stop-color="#8d498d"/><stop offset="1.000" stop-color="#8f498c"/></linearGradient>
<linearGradient id="r73" x1="705" x2="1023" y1="0" y2="0" gradientUnits="userSpaceOnUse"><stop offset="0.000" stop-color="#000000"/><stop offset="0.698" stop-color="#000000"/><stop offset="0.717" stop-color="#060f59"/><stop offset="0.736" stop-color="#0a1d80"/><stop offset="0.755" stop-color="#0f2b96"/><stop offset="0.802" stop-color="#15349c"/><stop offset="0.849" stop-color="#17379d"/><stop offset="0.868" stop-color="#363e96"/><stop offset="0.887" stop-color="#5a4593"/><stop offset="0.906" stop-color="#654692"/><stop offset="1.000" stop-color="#654692"/></linearGradient>
<linearGradient id="r74" x1="705" x2="1023" y1="0" y2="0" gradientUnits="userSpaceOnUse"><stop offset="0.000" stop-color="#000000"/><stop offset="0.670" stop-color="#000000"/><stop offset="0.679" stop-color="#01010a"/><stop offset="0.689" stop-color="#050a3f"/><stop offset="0.698" stop-color="#07115f"/><stop offset="0.708" stop-color="#081776"/><stop offset="0.736" stop-color="#0f2c97"/><stop offset="0.792" stop-color="#15349b"/><stop offset="0.849" stop-color="#17369d"/><stop offset="0.858" stop-color="#213a9c"/><stop offset="0.887" stop-color="#584494"/><stop offset="0.906" stop-color="#624692"/><stop offset="1.000" stop-color="#624692"/></linearGradient>
<linearGradient id="r75" x1="705" x2="1023" y1="0" y2="0" gradientUnits="userSpaceOnUse"><stop offset="0.000" stop-color="#000000"/><stop offset="0.698" stop-color="#000000"/><stop offset="0.708" stop-color="#02041d"/><stop offset="0.717" stop-color="#060c51"/><stop offset="0.736" stop-color="#08197a"/><stop offset="0.764" stop-color="#102c97"/><stop offset="0.849" stop-color="#15349c"/><stop offset="0.858" stop-color="#1f399c"/><stop offset="0.887" stop-color="#594494"/><stop offset="0.906" stop-color="#644692"/><stop offset="1.000" stop-color="#644692"/></linearGradient>
<linearGradient id="r76" x1="705" x2="1023" y1="0" y2="0" gradientUnits="userSpaceOnUse"><stop offset="0.000" stop-color="#000000"/><stop offset="0.698" stop-color="#000000"/><stop offset="0.708" stop-color="#030522"/><stop offset="0.717" stop-color="#060e56"/><stop offset="0.736" stop-color="#0a1e81"/><stop offset="0.755" stop-color="#102d98"/><stop offset="0.792" stop-color="#1e399c"/><stop offset="0.840" stop-color="#1e399c"/><stop offset="0.849" stop-color="#253a9b"/><stop offset="0.887" stop-color="#734890"/><stop offset="0.906" stop-color="#814a8e"/><stop offset="1.000" stop-color="#814a8e"/></linearGradient>
<linearGradient id="r77" x1="705" x2="1023" y1="0" y2="0" gradientUnits="userSpaceOnUse"><stop offset="0.000" stop-color="#17369d"/><stop offset="0.028" stop-color="#0e2a96"/><stop offset="0.066" stop-color="#081670"/><stop offset="0.085" stop-color="#060d53"/><stop offset="0.104" stop-color="#000105"/><stop offset="0.151" stop-color="#000000"/><stop offset="0.717" stop-color="#000000"/><stop offset="0.726" stop-color="#040836"/><stop offset="0.736" stop-color="#07105e"/><stop offset="0.755" stop-color="#0b2086"/><stop offset="0.764" stop-color="#0e2994"/><stop offset="0.802" stop-color="#1b399d"/><stop offset="0.840" stop-color="#1b399d"/><stop offset="0.849" stop-color="#243a9b"/><stop offset="0.887" stop-color="#834a8e"/><stop offset="0.906" stop-color="#8f498d"/><stop offset="1.000" stop-color="#8f498d"/></linearGradient>
<linearGradient id="r78" x1="705" x2="1023" y1="0" y2="0" gradientUnits="userSpaceOnUse"><stop offset="0.000" stop-color="#17369d"/><stop offset="0.028" stop-color="#0e2a96"/><stop offset="0.066" stop-color="#081670"/><stop offset="0.085" stop-color="#060d53"/><stop offset="0.104" stop-color="#000105"/><stop offset="0.151" stop-color="#000000"/><stop offset="0.689" stop-color="#000000"/><stop offset="0.698" stop-color="#010210"/><stop offset="0.708" stop-color="#050a40"/><stop offset="0.717" stop-color="#07105d"/><stop offset="0.736" stop-color="#091c7f"/><stop offset="0.764" stop-color="#0f2b97"/><stop offset="0.840" stop-color="#102d98"/><stop offset="0.849" stop-color="#13329a"/><stop offset="0.858" stop-color="#243a9b"/><stop offset="0.877" stop-color="#654692"/><stop offset="0.887" stop-color="#7d498f"/><stop offset="0.896" stop-color="#894a8d"/><stop offset="1.000" stop-color="#8c498d"/></linearGradient>
<linearGradient id="r79" x1="705" x2="1023" y1="0" y2="0" gradientUnits="userSpaceOnUse"><stop offset="0.000" stop-color="#17369d"/><stop offset="0.028" stop-color="#0e2a96"/><stop offset="0.066" stop-color="#081670"/><stop offset="0.085" stop-color="#060d53"/><stop offset="0.104" stop-color="#000105"/><stop offset="0.151" stop-color="#000000"/><stop offset="0.698" stop-color="#000000"/><stop offset="0.708" stop-color="#02041b"/><stop offset="0.717" stop-color="#060c51"/><stop offset="0.736" stop-color="#08197a"/><stop offset="0.764" stop-color="#102d98"/><stop offset="0.849" stop-color="#17379d"/><stop offset="0.858" stop-color="#2d3c99"/><stop offset="0.877" stop-color="#684791"/><stop offset="0.887" stop-color="#7e4a8e"/><stop offset="0.896" stop-color="#8a4a8d"/><stop offset="1.000" stop-color="#8c498d"/></linearGradient>
<linearGradient id="r80" x1="705" x2="1023" y1="0" y2="0" gradientUnits="userSpaceOnUse"><stop offset="0.000" stop-color="#000000"/><stop offset="0.689" stop-color="#000000"/><stop offset="0.698" stop-color="#01020b"/><stop offset="0.708" stop-color="#05093f"/><stop offset="0.717" stop-color="#07105e"/><stop offset="0.736" stop-color="#0a1e81"/><stop offset="0.755" stop-color="#0e2a96"/><stop offset="0.821" stop-color="#13319a"/><stop offset="0.849" stop-color="#15349b"/><stop offset="0.858" stop-color="#1e399c"/><stop offset="0.887" stop-color="#5b4593"/><stop offset="0.906" stop-color="#674692"/><stop offset="1.000" stop-color="#674692"/></linearGradient>
<linearGradient id="r81" x1="705" x2="1023" y1="0" y2="0" gradientUnits="userSpaceOnUse"><stop offset="0.000" stop-color="#000000"/><stop offset="0.717" stop-color="#000000"/><stop offset="0.726" stop-color="#010312"/><stop offset="0.736" stop-color="#050a45"/><stop offset="0.755" stop-color="#081774"/><stop offset="0.783" stop-color="#0e2995"/><stop offset="0.849" stop-color="#14339b"/><stop offset="0.858" stop-color="#213a9c"/><stop offset="0.877" stop-color="#584494"/><stop offset="0.896" stop-color="#79498f"/><stop offset="1.000" stop-color="#7b498f"/></linearGradient>
<linearGradient id="r82" x1="705" x2="1023" y1="0" y2="0" gradientUnits="userSpaceOnUse"><stop offset="0.000" stop-color="#000000"/><stop offset="0.708" stop-color="#000000"/><stop offset="0.717" stop-color="#000105"/><stop offset="0.726" stop-color="#05093e"/><stop offset="0.736" stop-color="#071161"/><stop offset="0.745" stop-color="#081979"/><stop offset="0.764" stop-color="#0e2a96"/><stop offset="0.802" stop-color="#1d399d"/><stop offset="0.840" stop-color="#1d399d"/><stop offset="0.849" stop-color="#253a9b"/><stop offset="0.887" stop-color="#7a498f"/><stop offset="0.896" stop-color="#854a8e"/><stop offset="1.000" stop-color="#874a8d"/></linearGradient>
<linearGradient id="r83" x1="705" x2="1023" y1="0" y2="0" gradientUnits="userSpaceOnUse"><stop offset="0.000" stop-color="#000000"/><stop offset="0.726" stop-color="#000000"/><stop offset="0.736" stop-color="#020315"/><stop offset="0.745" stop-color="#050b48"/><stop offset="0.764" stop-color="#081775"/><stop offset="0.792" stop-color="#0e2994"/><stop offset="0.849" stop-color="#14329a"/><stop offset="0.858" stop-color="#1d399d"/><stop offset="0.877" stop-color="#504394"/><stop offset="0.896" stop-color="#6e4791"/><stop offset="1.000" stop-color="#714890"/></linearGradient>
<linearGradient id="r84" x1="705" x2="1023" y1="0" y2="0" gradientUnits="userSpaceOnUse"><stop offset="0.000" stop-color="#000000"/><stop offset="0.679" stop-color="#000000"/><stop offset="0.689" stop-color="#01020f"/><stop offset="0.698" stop-color="#05093d"/><stop offset="0.708" stop-color="#070f5b"/><stop offset="0.726" stop-color="#091a7c"/><stop offset="0.764" stop-color="#0e2a96"/><stop offset="0.849" stop-color="#112e98"/><stop offset="0.858" stop-color="#17369d"/><stop offset="0.887" stop-color="#5d4593"/><stop offset="0.896" stop-color="#694791"/><stop offset="1.000" stop-color="#6b4791"/></linearGradient>
<linearGradient id="r85" x1="705" x2="1023" y1="0" y2="0" gradientUnits="userSpaceOnUse"><stop offset="0.000" stop-color="#000000"/><stop offset="0.698" stop-color="#000000"/><stop offset="0.708" stop-color="#01020d"/><stop offset="0.717" stop-color="#040939"/><stop offset="0.726" stop-color="#060f59"/><stop offset="0.745" stop-color="#08197a"/><stop offset="0.783" stop-color="#0d2892"/><stop offset="0.840" stop-color="#0d2893"/><stop offset="0.858" stop-color="#1a389e"/><stop offset="0.877" stop-color="#5d4593"/><stop offset="0.887" stop-color="#754890"/><stop offset="0.896" stop-color="#844a8e"/><stop offset="1.000" stop-color="#874a8d"/></linearGradient>
<linearGradient id="r86" x1="705" x2="1023" y1="0" y2="0" gradientUnits="userSpaceOnUse"><stop offset="0.000" stop-color="#000000"/><stop offset="0.679" stop-color="#000000"/><stop offset="0.698" stop-color="#060f5a"/><stop offset="0.717" stop-color="#0a1d80"/><stop offset="0.736" stop-color="#0e2a96"/><stop offset="0.783" stop-color="#14339b"/><stop offset="0.849" stop-color="#16369d"/><stop offset="0.858" stop-color="#233a9b"/><stop offset="0.887" stop-color="#604593"/><stop offset="0.906" stop-color="#6c4791"/><stop offset="1.000" stop-color="#6c4791"/></linearGradient>
<linearGradient id="r87" x1="705" x2="1023" y1="0" y2="0" gradientUnits="userSpaceOnUse"><stop offset="0.000" stop-color="#000000"/><stop offset="0.736" stop-color="#000000"/><stop offset="0.755" stop-color="#060d53"/><stop offset="0.774" stop-color="#081776"/><stop offset="0.811" stop-color="#0d2792"/><stop offset="0.849" stop-color="#0f2b97"/><stop offset="0.868" stop-color="#213a9c"/><stop offset="0.887" stop-color="#4b4295"/><stop offset="0.896" stop-color="#574494"/><stop offset="1.000" stop-color="#594593"/></linearGradient>
<linearGradient id="r88" x1="705" x2="1023" y1="0" y2="0" gradientUnits="userSpaceOnUse"><stop offset="0.000" stop-color="#000000"/><stop offset="0.660" stop-color="#000000"/><stop offset="0.670" stop-color="#000105"/><stop offset="0.679" stop-color="#05093e"/><stop offset="0.689" stop-color="#071161"/><stop offset="0.698" stop-color="#081979"/><stop offset="0.717" stop-color="#0e2a95"/><stop offset="0.755" stop-color="#1b399d"/><stop offset="0.840" stop-color="#1c399d"/><stop offset="0.858" stop-color="#2d3c98"/><stop offset="0.887" stop-color="#5e4593"/><stop offset="0.915" stop-color="#674692"/><stop offset="1.000" stop-color="#674692"/></linearGradient>
<linearGradient id="r89" x1="705" x2="1023" y1="0" y2="0" gradientUnits="userSpaceOnUse"><stop offset="0.000" stop-color="#000000"/><stop offset="0.745" stop-color="#000000"/><stop offset="0.755" stop-color="#030626"/><stop offset="0.764" stop-color="#060d55"/><stop offset="0.783" stop-color="#091b7c"/><stop offset="0.802" stop-color="#0d2893"/><stop offset="0.849" stop-color="#16359c"/><stop offset="0.858" stop-color="#223a9b"/><stop offset="0.877" stop-color="#524394"/><stop offset="0.896" stop-color="#6e4791"/><stop offset="1.000" stop-color="#704890"/></linearGradient>
<linearGradient id="r90" x1="705" x2="1023" y1="0" y2="0" gradientUnits="userSpaceOnUse"><stop offset="0.000" stop-color="#000000"/><stop offset="0.708" stop-color="#000000"/><stop offset="0.717" stop-color="#02041c"/><stop offset="0.726" stop-color="#060c4f"/><stop offset="0.745" stop-color="#081877"/><stop offset="0.774" stop-color="#0e2995"/><stop offset="0.849" stop-color="#13319a"/><stop offset="0.858" stop-color="#17379e"/><stop offset="0.887" stop-color="#4f4394"/><stop offset="0.906" stop-color="#5b4593"/><stop offset="1.000" stop-color="#5b4593"/></linearGradient>
<linearGradient id="r91" x1="705" x2="1023" y1="0" y2="0" gradientUnits="userSpaceOnUse"><stop offset="0.000" stop-color="#000000"/><stop offset="0.745" stop-color="#000000"/><stop offset="0.755" stop-color="#010108"/><stop offset="0.764" stop-color="#040836"/><stop offset="0.774" stop-color="#060e58"/><stop offset="0.792" stop-color="#08197a"/><stop offset="0.830" stop-color="#0e2995"/><stop offset="0.858" stop-color="#15339b"/><stop offset="0.868" stop-color="#223a9b"/><stop offset="0.887" stop-color="#4a4295"/><stop offset="0.896" stop-color="#564494"/><stop offset="1.000" stop-color="#584494"/></linearGradient>
<linearGradient id="r92" x1="705" x2="1023" y1="0" y2="0" gradientUnits="userSpaceOnUse"><stop offset="0.000" stop-color="#000000"/><stop offset="0.708" stop-color="#000000"/><stop offset="0.717" stop-color="#030625"/><stop offset="0.726" stop-color="#060d53"/><stop offset="0.745" stop-color="#08197a"/><stop offset="0.774" stop-color="#0e2a96"/><stop offset="0.849" stop-color="#13319a"/><stop offset="0.858" stop-color="#1a389e"/><stop offset="0.887" stop-color="#594593"/><stop offset="0.906" stop-color="#654692"/><stop offset="1.000" stop-color="#654692"/></linearGradient>
<linearGradient id="r93" x1="705" x2="1023" y1="0" y2="0" gradientUnits="userSpaceOnUse"><stop offset="0.000" stop-color="#000000"/><stop offset="0.726" stop-color="#000000"/><stop offset="0.736" stop-color="#000106"/><stop offset="0.745" stop-color="#040833"/><stop offset="0.755" stop-color="#060e57"/><stop offset="0.774" stop-color="#081979"/><stop offset="0.802" stop-color="#0d2791"/><stop offset="0.849" stop-color="#102c97"/><stop offset="0.858" stop-color="#15349c"/><stop offset="0.887" stop-color="#504394"/><stop offset="0.906" stop-color="#5e4593"/><stop offset="1.000" stop-color="#5e4593"/></linearGradient>
<linearGradient id="r94" x1="705" x2="1023" y1="0" y2="0" gradientUnits="userSpaceOnUse"><stop offset="0.000" stop-color="#000000"/><stop offset="0.698" stop-color="#000000"/><stop offset="0.708" stop-color="#01020f"/><stop offset="0.717" stop-color="#050a41"/><stop offset="0.736" stop-color="#081673"/><stop offset="0.764" stop-color="#0e2994"/><stop offset="0.849" stop-color="#14329b"/><stop offset="0.858" stop-color="#1f399c"/><stop offset="0.877" stop-color="#574494"/><stop offset="0.896" stop-color="#764890"/><stop offset="1.000" stop-color="#79498f"/></linearGradient>
<linearGradient id="r95" x1="705" x2="1023" y1="0" y2="0" gradientUnits="userSpaceOnUse"><stop offset="0.000" stop-color="#000000"/><stop offset="0.708" stop-color="#000000"/><stop offset="0.726" stop-color="#060d54"/><stop offset="0.745" stop-color="#081979"/><stop offset="0.774" stop-color="#0d2893"/><stop offset="0.849" stop-color="#122f99"/><stop offset="0.858" stop-color="#18389e"/><stop offset="0.887" stop-color="#5f4593"/><stop offset="0.896" stop-color="#6b4791"/><stop offset="1.000" stop-color="#6e4791"/></linearGradient>
<linearGradient id="r96" x1="705" x2="1023" y1="0" y2="0" gradientUnits="userSpaceOnUse"><stop offset="0.000" stop-color="#000000"/><stop offset="0.736" stop-color="#000104"/><stop offset="0.755" stop-color="#060e56"/><stop offset="0.774" stop-color="#081879"/><stop offset="0.811" stop-color="#0d2893"/><stop offset="0.849" stop-color="#0f2c97"/><stop offset="0.868" stop-color="#233a9b"/><stop offset="0.887" stop-color="#4e4394"/><stop offset="0.896" stop-color="#594593"/><stop offset="1.000" stop-color="#5b4593"/></linearGradient>
<linearGradient id="r97" x1="705" x2="1023" y1="0" y2="0" gradientUnits="userSpaceOnUse"><stop offset="0.000" stop-color="#000000"/><stop offset="0.726" stop-color="#000000"/><stop offset="0.736" stop-color="#01020e"/><stop offset="0.745" stop-color="#04093b"/><stop offset="0.755" stop-color="#060f5a"/><stop offset="0.774" stop-color="#091a7b"/><stop offset="0.811" stop-color="#0d2893"/><stop offset="0.849" stop-color="#0f2c97"/><stop offset="0.858" stop-color="#15349c"/><stop offset="0.887" stop-color="#564494"/><stop offset="0.906" stop-color="#634692"/><stop offset="1.000" stop-color="#634692"/></linearGradient>
<linearGradient id="r98" x1="705" x2="1023" y1="0" y2="0" gradientUnits="userSpaceOnUse"><stop offset="0.000" stop-color="#000000"/><stop offset="0.764" stop-color="#000001"/><stop offset="0.774" stop-color="#040833"/><stop offset="0.783" stop-color="#060f59"/><stop offset="0.802" stop-color="#091c7e"/><stop offset="0.821" stop-color="#0d2893"/><stop offset="0.858" stop-color="#1b399d"/><stop offset="0.887" stop-color="#564494"/><stop offset="0.906" stop-color="#614692"/><stop offset="1.000" stop-color="#614692"/></linearGradient>
<linearGradient id="r99" x1="705" x2="1023" y1="0" y2="0" gradientUnits="userSpaceOnUse"><stop offset="0.000" stop-color="#000000"/><stop offset="0.726" stop-color="#000104"/><stop offset="0.736" stop-color="#040835"/><stop offset="0.745" stop-color="#060f59"/><stop offset="0.764" stop-color="#091b7d"/><stop offset="0.792" stop-color="#0f2b97"/><stop offset="0.849" stop-color="#13319a"/><stop offset="0.858" stop-color="#18389e"/><stop offset="0.887" stop-color="#554494"/><stop offset="0.906" stop-color="#614692"/><stop offset="1.000" stop-color="#614692"/></linearGradient>
<linearGradient id="r100" x1="705" x2="1023" y1="0" y2="0" gradientUnits="userSpaceOnUse"><stop offset="0.000" stop-color="#000000"/><stop offset="0.736" stop-color="#000000"/><stop offset="0.755" stop-color="#060d53"/><stop offset="0.774" stop-color="#08197a"/><stop offset="0.792" stop-color="#16359c"/><stop offset="0.821" stop-color="#704890"/><stop offset="0.840" stop-color="#96498c"/><stop offset="0.849" stop-color="#a0488b"/><stop offset="0.868" stop-color="#9a498b"/><stop offset="0.896" stop-color="#854a8e"/><stop offset="1.000" stop-color="#844a8e"/></linearGradient>
<linearGradient id="r101" x1="705" x2="1023" y1="0" y2="0" gradientUnits="userSpaceOnUse"><stop offset="0.000" stop-color="#000000"/><stop offset="0.642" stop-color="#000000"/><stop offset="0.651" stop-color="#020521"/><stop offset="0.660" stop-color="#060d53"/><stop offset="0.679" stop-color="#091a7c"/><stop offset="0.698" stop-color="#0d2893"/><stop offset="0.745" stop-color="#14339b"/><stop offset="0.783" stop-color="#17379e"/><stop offset="0.802" stop-color="#424095"/><stop offset="0.830" stop-color="#894a8d"/><stop offset="0.849" stop-color="#a0488b"/><stop offset="0.868" stop-color="#92498c"/><stop offset="0.896" stop-color="#6d4791"/><stop offset="1.000" stop-color="#6b4791"/></linearGradient>
<linearGradient id="r102" x1="705" x2="1023" y1="0" y2="0" gradientUnits="userSpaceOnUse"><stop offset="0.000" stop-color="#000000"/><stop offset="0.642" stop-color="#000000"/><stop offset="0.660" stop-color="#070f5b"/><stop offset="0.679" stop-color="#0a1e82"/><stop offset="0.698" stop-color="#102c97"/><stop offset="0.745" stop-color="#17369d"/><stop offset="0.774" stop-color="#17369d"/><stop offset="0.783" stop-color="#1e399d"/><stop offset="0.811" stop-color="#604692"/><stop offset="0.830" stop-color="#8a4a8d"/><stop offset="0.849" stop-color="#a1488a"/><stop offset="0.868" stop-color="#99498b"/><stop offset="0.896" stop-color="#814a8e"/><stop offset="1.000" stop-color="#7f4a8e"/></linearGradient>
<linearGradient id="r103" x1="705" x2="1023" y1="0" y2="0" gradientUnits="userSpaceOnUse"><stop offset="0.000" stop-color="#000000"/><stop offset="0.632" stop-color="#000000"/><stop offset="0.642" stop-color="#01020f"/><stop offset="0.651" stop-color="#04093a"/><stop offset="0.660" stop-color="#060f58"/><stop offset="0.679" stop-color="#081878"/><stop offset="0.708" stop-color="#0c238b"/><stop offset="0.840" stop-color="#0c258d"/><stop offset="0.858" stop-color="#15339b"/><stop offset="0.868" stop-color="#293b9a"/><stop offset="0.887" stop-color="#5e4593"/><stop offset="0.896" stop-color="#6a4791"/><stop offset="1.000" stop-color="#6d4791"/></linearGradient>
<linearGradient id="r104" x1="705" x2="1023" y1="0" y2="0" gradientUnits="userSpaceOnUse"><stop offset="0.000" stop-color="#000000"/><stop offset="0.632" stop-color="#000000"/><stop offset="0.651" stop-color="#060d55"/><stop offset="0.670" stop-color="#091a7b"/><stop offset="0.698" stop-color="#0f2b97"/><stop offset="0.840" stop-color="#122f99"/><stop offset="0.849" stop-color="#15349b"/><stop offset="0.858" stop-color="#283b9a"/><stop offset="0.877" stop-color="#674692"/><stop offset="0.887" stop-color="#7f4a8e"/><stop offset="0.896" stop-color="#8b498d"/><stop offset="1.000" stop-color="#8e498d"/></linearGradient>
<linearGradient id="r105" x1="705" x2="1023" y1="0" y2="0" gradientUnits="userSpaceOnUse"><stop offset="0.000" stop-color="#000000"/><stop offset="0.651" stop-color="#000000"/><stop offset="0.670" stop-color="#060c51"/><stop offset="0.698" stop-color="#091b7d"/><stop offset="0.736" stop-color="#0d268f"/><stop offset="0.840" stop-color="#0d268f"/><stop offset="0.858" stop-color="#14339b"/><stop offset="0.868" stop-color="#263b9a"/><stop offset="0.887" stop-color="#584494"/><stop offset="0.896" stop-color="#644692"/><stop offset="1.000" stop-color="#664692"/></linearGradient>
<linearGradient id="r106" x1="705" x2="1023" y1="0" y2="0" gradientUnits="userSpaceOnUse"><stop offset="0.000" stop-color="#000000"/><stop offset="0.679" stop-color="#000000"/><stop offset="0.698" stop-color="#060d52"/><stop offset="0.717" stop-color="#081776"/><stop offset="0.755" stop-color="#0d2893"/><stop offset="0.849" stop-color="#102d97"/><stop offset="0.858" stop-color="#16359c"/><stop offset="0.887" stop-color="#594593"/><stop offset="0.906" stop-color="#674692"/><stop offset="1.000" stop-color="#674692"/></linearGradient>
<linearGradient id="r107" x1="705" x2="1023" y1="0" y2="0" gradientUnits="userSpaceOnUse"><stop offset="0.000" stop-color="#000000"/><stop offset="0.679" stop-color="#000000"/><stop offset="0.689" stop-color="#020419"/><stop offset="0.698" stop-color="#050b48"/><stop offset="0.717" stop-color="#081671"/><stop offset="0.745" stop-color="#0c258e"/><stop offset="0.783" stop-color="#0e2a96"/><stop offset="0.849" stop-color="#102d98"/><stop offset="0.858" stop-color="#16359c"/><stop offset="0.887" stop-color="#544494"/><stop offset="0.896" stop-color="#5f4593"/><stop offset="1.000" stop-color="#614692"/></linearGradient>
<linearGradient id="r108" x1="705" x2="1023" y1="0" y2="0" gradientUnits="userSpaceOnUse"><stop offset="0.000" stop-color="#000000"/><stop offset="0.670" stop-color="#000000"/><stop offset="0.679" stop-color="#010210"/><stop offset="0.689" stop-color="#050a43"/><stop offset="0.708" stop-color="#081775"/><stop offset="0.736" stop-color="#0e2a96"/><stop offset="0.792" stop-color="#13309a"/><stop offset="0.849" stop-color="#14339b"/><stop offset="0.858" stop-color="#1b399d"/><stop offset="0.887" stop-color="#534494"/><stop offset="0.906" stop-color="#5e4593"/><stop offset="1.000" stop-color="#5e4593"/></linearGradient>
<linearGradient id="r109" x1="705" x2="1023" y1="0" y2="0" gradientUnits="userSpaceOnUse"><stop offset="0.000" stop-color="#000000"/><stop offset="0.632" stop-color="#000000"/><stop offset="0.642" stop-color="#020314"/><stop offset="0.651" stop-color="#060b4d"/><stop offset="0.670" stop-color="#091a7b"/><stop offset="0.689" stop-color="#0e2995"/><stop offset="0.726" stop-color="#17369d"/><stop offset="0.849" stop-color="#19389e"/><stop offset="0.887" stop-color="#5d4593"/><stop offset="0.906" stop-color="#674692"/><stop offset="1.000" stop-color="#674692"/></linearGradient>
<linearGradient id="r110" x1="705" x2="1023" y1="0" y2="0" gradientUnits="userSpaceOnUse"><stop offset="0.000" stop-color="#000000"/><stop offset="0.679" stop-color="#000000"/><stop offset="0.689" stop-color="#01020d"/><stop offset="0.698" stop-color="#050a44"/><stop offset="0.717" stop-color="#081879"/><stop offset="0.736" stop-color="#0d2892"/><stop offset="0.774" stop-color="#16359c"/><stop offset="0.840" stop-color="#16359c"/><stop offset="0.849" stop-color="#1b399d"/><stop offset="0.887" stop-color="#814a8e"/><stop offset="0.896" stop-color="#8c498d"/><stop offset="1.000" stop-color="#8e498d"/></linearGradient>
<linearGradient id="r111" x1="705" x2="1023" y1="0" y2="0" gradientUnits="userSpaceOnUse"><stop offset="0.000" stop-color="#000000"/><stop offset="0.660" stop-color="#000000"/><stop offset="0.679" stop-color="#060f59"/><stop offset="0.698" stop-color="#0a1d80"/><stop offset="0.717" stop-color="#0e2a96"/><stop offset="0.764" stop-color="#14339b"/><stop offset="0.849" stop-color="#17379d"/><stop offset="0.858" stop-color="#2c3c99"/><stop offset="0.877" stop-color="#654692"/><stop offset="0.887" stop-color="#7a498f"/><stop offset="0.896" stop-color="#864a8e"/><stop offset="1.000" stop-color="#884a8d"/></linearGradient>
<linearGradient id="r112" x1="705" x2="1023" y1="0" y2="0" gradientUnits="userSpaceOnUse"><stop offset="0.000" stop-color="#000000"/><stop offset="0.670" stop-color="#000000"/><stop offset="0.689" stop-color="#060f58"/><stop offset="0.708" stop-color="#0a1e82"/><stop offset="0.726" stop-color="#102d98"/><stop offset="0.764" stop-color="#18389e"/><stop offset="0.840" stop-color="#18389e"/><stop offset="0.849" stop-color="#203a9c"/><stop offset="0.887" stop-color="#7c498f"/><stop offset="0.896" stop-color="#874a8d"/><stop offset="1.000" stop-color="#894a8d"/></linearGradient>
<linearGradient id="r113" x1="705" x2="1023" y1="0" y2="0" gradientUnits="userSpaceOnUse"><stop offset="0.000" stop-color="#000000"/><stop offset="0.679" stop-color="#000000"/><stop offset="0.698" stop-color="#060e56"/><stop offset="0.717" stop-color="#091a7c"/><stop offset="0.745" stop-color="#0f2c97"/><stop offset="0.849" stop-color="#14329b"/><stop offset="0.858" stop-color="#18389e"/><stop offset="0.887" stop-color="#4d4295"/><stop offset="0.906" stop-color="#594593"/><stop offset="1.000" stop-color="#594593"/></linearGradient>
<linearGradient id="r114" x1="705" x2="1023" y1="0" y2="0" gradientUnits="userSpaceOnUse"><stop offset="0.000" stop-color="#000000"/><stop offset="0.660" stop-color="#000000"/><stop offset="0.670" stop-color="#01020e"/><stop offset="0.679" stop-color="#040939"/><stop offset="0.689" stop-color="#060e58"/><stop offset="0.708" stop-color="#081878"/><stop offset="0.745" stop-color="#0c258e"/><stop offset="0.840" stop-color="#0c258e"/><stop offset="0.858" stop-color="#15349c"/><stop offset="0.887" stop-color="#614692"/><stop offset="0.896" stop-color="#6e4791"/><stop offset="1.000" stop-color="#714890"/></linearGradient>
<linearGradient id="r115" x1="705" x2="1023" y1="0" y2="0" gradientUnits="userSpaceOnUse"><stop offset="0.000" stop-color="#000000"/><stop offset="0.670" stop-color="#000000"/><stop offset="0.679" stop-color="#010311"/><stop offset="0.689" stop-color="#050a46"/><stop offset="0.708" stop-color="#081877"/><stop offset="0.736" stop-color="#0f2b97"/><stop offset="0.802" stop-color="#14329a"/><stop offset="0.849" stop-color="#16359c"/><stop offset="0.858" stop-color="#243a9b"/><stop offset="0.877" stop-color="#564494"/><stop offset="0.896" stop-color="#734890"/><stop offset="1.000" stop-color="#764890"/></linearGradient>
<linearGradient id="r116" x1="705" x2="1023" y1="0" y2="0" gradientUnits="userSpaceOnUse"><stop offset="0.000" stop-color="#000000"/><stop offset="0.651" stop-color="#000000"/><stop offset="0.660" stop-color="#030523"/><stop offset="0.670" stop-color="#060d54"/><stop offset="0.689" stop-color="#091b7c"/><stop offset="0.708" stop-color="#0e2994"/><stop offset="0.755" stop-color="#14339b"/><stop offset="0.849" stop-color="#16359c"/><stop offset="0.868" stop-color="#2e3c98"/><stop offset="0.887" stop-color="#4e4394"/><stop offset="0.906" stop-color="#594593"/><stop offset="1.000" stop-color="#594593"/></linearGradient>
<linearGradient id="r117" x1="705" x2="1023" y1="0" y2="0" gradientUnits="userSpaceOnUse"><stop offset="0.000" stop-color="#000000"/><stop offset="0.642" stop-color="#000000"/><stop offset="0.651" stop-color="#010311"/><stop offset="0.660" stop-color="#05093c"/><stop offset="0.670" stop-color="#060f59"/><stop offset="0.689" stop-color="#081979"/><stop offset="0.726" stop-color="#0d268f"/><stop offset="0.840" stop-color="#0d268f"/><stop offset="0.858" stop-color="#17379e"/><stop offset="0.877" stop-color="#5c4593"/><stop offset="0.896" stop-color="#844a8e"/><stop offset="1.000" stop-color="#864a8e"/></linearGradient>
<linearGradient id="r118" x1="705" x2="1023" y1="0" y2="0" gradientUnits="userSpaceOnUse"><stop offset="0.000" stop-color="#000000"/><stop offset="0.660" stop-color="#000000"/><stop offset="0.670" stop-color="#020315"/><stop offset="0.679" stop-color="#050a44"/><stop offset="0.698" stop-color="#08156f"/><stop offset="0.726" stop-color="#0c258d"/><stop offset="0.764" stop-color="#0e2a95"/><stop offset="0.849" stop-color="#102d98"/><stop offset="0.858" stop-color="#17379d"/><stop offset="0.877" stop-color="#4e4394"/><stop offset="0.896" stop-color="#704890"/><stop offset="1.000" stop-color="#734890"/></linearGradient>
<linearGradient id="r119" x1="705" x2="1023" y1="0" y2="0" gradientUnits="userSpaceOnUse"><stop offset="0.000" stop-color="#000000"/><stop offset="0.660" stop-color="#000000"/><stop offset="0.679" stop-color="#060d54"/><stop offset="0.698" stop-color="#081879"/><stop offset="0.726" stop-color="#0d2892"/><stop offset="0.821" stop-color="#0f2b97"/><stop offset="0.849" stop-color="#112e98"/><stop offset="0.858" stop-color="#16359c"/><stop offset="0.887" stop-color="#514394"/><stop offset="0.896" stop-color="#5c4593"/><stop offset="1.000" stop-color="#5e4593"/></linearGradient>
<linearGradient id="r120" x1="705" x2="1023" y1="0" y2="0" gradientUnits="userSpaceOnUse"><stop offset="0.000" stop-color="#000000"/><stop offset="0.632" stop-color="#000000"/><stop offset="0.642" stop-color="#030523"/><stop offset="0.651" stop-color="#060d52"/><stop offset="0.670" stop-color="#081878"/><stop offset="0.698" stop-color="#0d2893"/><stop offset="0.783" stop-color="#13319a"/><stop offset="0.792" stop-color="#1d399d"/><stop offset="0.821" stop-color="#704890"/><stop offset="0.840" stop-color="#96498c"/><stop offset="0.849" stop-color="#a1488a"/><stop offset="0.868" stop-color="#9e488b"/><stop offset="0.906" stop-color="#8c498d"/><stop offset="1.000" stop-color="#8c498d"/></linearGradient>
<linearGradient id="r121" x1="705" x2="1023" y1="0" y2="0" gradientUnits="userSpaceOnUse"><stop offset="0.000" stop-color="#000000"/><stop offset="0.651" stop-color="#000000"/><stop offset="0.660" stop-color="#030523"/><stop offset="0.670" stop-color="#060d53"/><stop offset="0.689" stop-color="#08197a"/><stop offset="0.717" stop-color="#0f2b97"/><stop offset="0.783" stop-color="#15349c"/><stop offset="0.792" stop-color="#233a9b"/><stop offset="0.821" stop-color="#724890"/><stop offset="0.840" stop-color="#97498c"/><stop offset="0.849" stop-color="#a0488b"/><stop offset="0.868" stop-color="#95498c"/><stop offset="0.896" stop-color="#744890"/><stop offset="1.000" stop-color="#724890"/></linearGradient>
<linearGradient id="r122" x1="705" x2="1023" y1="0" y2="0" gradientUnits="userSpaceOnUse"><stop offset="0.000" stop-color="#000000"/><stop offset="0.642" stop-color="#000000"/><stop offset="0.651" stop-color="#010210"/><stop offset="0.660" stop-color="#04093b"/><stop offset="0.670" stop-color="#060f59"/><stop offset="0.689" stop-color="#081878"/><stop offset="0.717" stop-color="#0c248b"/><stop offset="0.840" stop-color="#0c258e"/><stop offset="0.858" stop-color="#18389e"/><stop offset="0.877" stop-color="#604593"/><stop offset="0.887" stop-color="#7a498f"/><stop offset="0.896" stop-color="#894a8d"/><stop offset="1.000" stop-color="#8b498d"/></linearGradient>
<linearGradient id="r123" x1="705" x2="1023" y1="0" y2="0" gradientUnits="userSpaceOnUse"><stop offset="0.000" stop-color="#000000"/><stop offset="0.613" stop-color="#000000"/><stop offset="0.623" stop-color="#000106"/><stop offset="0.632" stop-color="#040837"/><stop offset="0.642" stop-color="#070f5a"/><stop offset="0.660" stop-color="#091b7e"/><stop offset="0.689" stop-color="#0f2b97"/><stop offset="0.840" stop-color="#112e98"/><stop offset="0.849" stop-color="#15349c"/><stop offset="0.858" stop-color="#313d98"/><stop offset="0.877" stop-color="#7e4a8e"/><stop offset="0.887" stop-color="#96498c"/><stop offset="0.896" stop-color="#a4488a"/><stop offset="1.000" stop-color="#a8488a"/></linearGradient>
<linearGradient id="r124" x1="705" x2="1023" y1="0" y2="0" gradientUnits="userSpaceOnUse"><stop offset="0.000" stop-color="#000000"/><stop offset="0.604" stop-color="#000000"/><stop offset="0.613" stop-color="#01020d"/><stop offset="0.623" stop-color="#050a45"/><stop offset="0.642" stop-color="#081979"/><stop offset="0.660" stop-color="#0d2893"/><stop offset="0.698" stop-color="#17369d"/><stop offset="0.840" stop-color="#17369d"/><stop offset="0.849" stop-color="#213a9c"/><stop offset="0.877" stop-color="#854a8e"/><stop offset="0.896" stop-color="#a9488a"/><stop offset="1.000" stop-color="#ad488a"/></linearGradient>
<linearGradient id="r125" x1="705" x2="1023" y1="0" y2="0" gradientUnits="userSpaceOnUse"><stop offset="0.000" stop-color="#000000"/><stop offset="0.642" stop-color="#000103"/><stop offset="0.651" stop-color="#040838"/><stop offset="0.660" stop-color="#07105d"/><stop offset="0.679" stop-color="#0a1e82"/><stop offset="0.698" stop-color="#0f2b97"/><stop offset="0.745" stop-color="#15349c"/><stop offset="0.849" stop-color="#19389e"/><stop offset="0.877" stop-color="#6f4791"/><stop offset="0.887" stop-color="#854a8e"/><stop offset="0.906" stop-color="#93498c"/><stop offset="1.000" stop-color="#93498c"/></linearGradient>
<linearGradient id="r126" x1="705" x2="1023" y1="0" y2="0" gradientUnits="userSpaceOnUse"><stop offset="0.000" stop-color="#000000"/><stop offset="0.660" stop-color="#000000"/><stop offset="0.670" stop-color="#02051f"/><stop offset="0.679" stop-color="#060c4f"/><stop offset="0.698" stop-color="#081774"/><stop offset="0.726" stop-color="#0d2690"/><stop offset="0.783" stop-color="#0f2b96"/><stop offset="0.840" stop-color="#0f2b96"/><stop offset="0.849" stop-color="#12309a"/><stop offset="0.858" stop-color="#263b9a"/><stop offset="0.877" stop-color="#714890"/><stop offset="0.887" stop-color="#8b4a8d"/><stop offset="0.896" stop-color="#98498b"/><stop offset="1.000" stop-color="#9b498b"/></linearGradient>
<linearGradient id="r127" x1="705" x2="1023" y1="0" y2="0" gradientUnits="userSpaceOnUse"><stop offset="0.000" stop-color="#000000"/><stop offset="0.604" stop-color="#000000"/><stop offset="0.623" stop-color="#060f59"/><stop offset="0.642" stop-color="#0a1e83"/><stop offset="0.660" stop-color="#102d98"/><stop offset="0.698" stop-color="#1b399d"/><stop offset="0.840" stop-color="#1b399d"/><stop offset="0.849" stop-color="#243a9b"/><stop offset="0.877" stop-color="#744890"/><stop offset="0.887" stop-color="#894a8d"/><stop offset="0.906" stop-color="#96498c"/><stop offset="1.000" stop-color="#96498c"/></linearGradient>
<linearGradient id="r128" x1="705" x2="1023" y1="0" y2="0" gradientUnits="userSpaceOnUse"><stop offset="0.000" stop-color="#000000"/><stop offset="0.604" stop-color="#000000"/><stop offset="0.613" stop-color="#010314"/><stop offset="0.623" stop-color="#050a42"/><stop offset="0.632" stop-color="#07105d"/><stop offset="0.651" stop-color="#091b7d"/><stop offset="0.689" stop-color="#0e2a95"/><stop offset="0.840" stop-color="#0e2a96"/><stop offset="0.849" stop-color="#112f99"/><stop offset="0.858" stop-color="#1f399c"/><stop offset="0.877" stop-color="#644692"/><stop offset="0.887" stop-color="#7e498f"/><stop offset="0.896" stop-color="#8b498d"/><stop offset="1.000" stop-color="#8e498d"/></linearGradient>
<linearGradient id="r129" x1="705" x2="1023" y1="0" y2="0" gradientUnits="userSpaceOnUse"><stop offset="0.000" stop-color="#000000"/><stop offset="0.642" stop-color="#000001"/><stop offset="0.651" stop-color="#040833"/><stop offset="0.660" stop-color="#060f59"/><stop offset="0.679" stop-color="#091c7e"/><stop offset="0.698" stop-color="#0e2994"/><stop offset="0.764" stop-color="#12309a"/><stop offset="0.840" stop-color="#12309a"/><stop offset="0.849" stop-color="#16369d"/><stop offset="0.858" stop-color="#323d97"/><stop offset="0.877" stop-color="#7c498f"/><stop offset="0.887" stop-color="#93498c"/><stop offset="0.896" stop-color="#a0488b"/><stop offset="1.000" stop-color="#a3488a"/></linearGradient>
<linearGradient id="r130" x1="705" x2="1023" y1="0" y2="0" gradientUnits="userSpaceOnUse"><stop offset="0.000" stop-color="#000000"/><stop offset="0.613" stop-color="#000000"/><stop offset="0.623" stop-color="#010210"/><stop offset="0.632" stop-color="#060b4a"/><stop offset="0.651" stop-color="#091a7b"/><stop offset="0.670" stop-color="#0e2a96"/><stop offset="0.708" stop-color="#18389e"/><stop offset="0.840" stop-color="#18389e"/><stop offset="0.849" stop-color="#20399c"/><stop offset="0.887" stop-color="#7e498f"/><stop offset="0.896" stop-color="#894a8d"/><stop offset="1.000" stop-color="#8b4a8d"/></linearGradient>
<linearGradient id="r131" x1="705" x2="1023" y1="0" y2="0" gradientUnits="userSpaceOnUse"><stop offset="0.000" stop-color="#000000"/><stop offset="0.632" stop-color="#000000"/><stop offset="0.642" stop-color="#030522"/><stop offset="0.651" stop-color="#060c4e"/><stop offset="0.679" stop-color="#091a7c"/><stop offset="0.717" stop-color="#0c258e"/><stop offset="0.840" stop-color="#0c258e"/><stop offset="0.858" stop-color="#17379d"/><stop offset="0.877" stop-color="#5d4593"/><stop offset="0.887" stop-color="#774890"/><stop offset="0.896" stop-color="#864a8e"/><stop offset="1.000" stop-color="#884a8d"/></linearGradient>
<linearGradient id="r132" x1="705" x2="1023" y1="0" y2="0" gradientUnits="userSpaceOnUse"><stop offset="0.000" stop-color="#000000"/><stop offset="0.613" stop-color="#000003"/><stop offset="0.623" stop-color="#040837"/><stop offset="0.632" stop-color="#07105c"/><stop offset="0.651" stop-color="#0a1d81"/><stop offset="0.670" stop-color="#0f2b96"/><stop offset="0.717" stop-color="#14339b"/><stop offset="0.840" stop-color="#14339b"/><stop offset="0.849" stop-color="#18389e"/><stop offset="0.858" stop-color="#313d97"/><stop offset="0.877" stop-color="#714890"/><stop offset="0.887" stop-color="#884a8d"/><stop offset="0.896" stop-color="#94498c"/><stop offset="1.000" stop-color="#96498c"/></linearGradient>
<linearGradient id="r133" x1="705" x2="1023" y1="0" y2="0" gradientUnits="userSpaceOnUse"><stop offset="0.000" stop-color="#000000"/><stop offset="0.660" stop-color="#000000"/><stop offset="0.679" stop-color="#060d54"/><stop offset="0.698" stop-color="#081877"/><stop offset="0.736" stop-color="#0e2994"/><stop offset="0.840" stop-color="#0e2995"/><stop offset="0.858" stop-color="#1c399d"/><stop offset="0.877" stop-color="#5f4593"/><stop offset="0.887" stop-color="#77498f"/><stop offset="0.896" stop-color="#864a8e"/><stop offset="1.000" stop-color="#884a8d"/></linearGradient>
<linearGradient id="r134" x1="705" x2="1023" y1="0" y2="0" gradientUnits="userSpaceOnUse"><stop offset="0.000" stop-color="#0c258d"/><stop offset="0.811" stop-color="#0d2690"/><stop offset="0.925" stop-color="#12309a"/><stop offset="1.000" stop-color="#12309a"/></linearGradient>
<linearGradient id="r135" x1="705" x2="1023" y1="0" y2="0" gradientUnits="userSpaceOnUse"><stop offset="0.000" stop-color="#0c258d"/><stop offset="0.811" stop-color="#0d2690"/><stop offset="0.925" stop-color="#12309a"/><stop offset="1.000" stop-color="#12309a"/></linearGradient>
<linearGradient id="r136" x1="705" x2="1023" y1="0" y2="0" gradientUnits="userSpaceOnUse"><stop offset="0.000" stop-color="#353e97"/><stop offset="0.811" stop-color="#383e96"/><stop offset="0.906" stop-color="#4b4295"/><stop offset="1.000" stop-color="#4b4295"/></linearGradient>
<linearGradient id="r137" x1="705" x2="1023" y1="0" y2="0" gradientUnits="userSpaceOnUse"><stop offset="0.000" stop-color="#353e97"/><stop offset="0.811" stop-color="#383e96"/><stop offset="0.906" stop-color="#4b4295"/><stop offset="1.000" stop-color="#4b4295"/></linearGradient>
<linearGradient id="r138" x1="705" x2="1023" y1="0" y2="0" gradientUnits="userSpaceOnUse"><stop offset="0.000" stop-color="#353e97"/><stop offset="0.811" stop-color="#383e96"/><stop offset="0.906" stop-color="#4b4295"/><stop offset="1.000" stop-color="#4b4295"/></linearGradient>
<linearGradient id="r139" x1="705" x2="1023" y1="0" y2="0" gradientUnits="userSpaceOnUse"><stop offset="0.000" stop-color="#654692"/><stop offset="0.811" stop-color="#684791"/><stop offset="0.915" stop-color="#774890"/><stop offset="1.000" stop-color="#774890"/></linearGradient>
<linearGradient id="r140" x1="705" x2="1023" y1="0" y2="0" gradientUnits="userSpaceOnUse"><stop offset="0.000" stop-color="#654692"/><stop offset="0.811" stop-color="#684791"/><stop offset="0.915" stop-color="#774890"/><stop offset="1.000" stop-color="#774890"/></linearGradient>
<linearGradient id="r141" x1="705" x2="1023" y1="0" y2="0" gradientUnits="userSpaceOnUse"><stop offset="0.000" stop-color="#864a8e"/><stop offset="1.000" stop-color="#834a8e"/></linearGradient>
<linearGradient id="r142" x1="705" x2="1023" y1="0" y2="0" gradientUnits="userSpaceOnUse"><stop offset="0.000" stop-color="#864a8e"/><stop offset="0.830" stop-color="#8a4a8d"/><stop offset="0.943" stop-color="#92498c"/><stop offset="1.000" stop-color="#92498c"/></linearGradient>
<linearGradient id="r143" x1="705" x2="1023" y1="0" y2="0" gradientUnits="userSpaceOnUse"><stop offset="0.000" stop-color="#864a8e"/><stop offset="0.830" stop-color="#8a4a8d"/><stop offset="0.943" stop-color="#92498c"/><stop offset="1.000" stop-color="#92498c"/></linearGradient>
<linearGradient id="r144" x1="705" x2="1023" y1="0" y2="0" gradientUnits="userSpaceOnUse"><stop offset="0.000" stop-color="#8e498d"/><stop offset="0.830" stop-color="#92498c"/><stop offset="0.953" stop-color="#9a498b"/><stop offset="1.000" stop-color="#9a498b"/></linearGradient>
<linearGradient id="r145" x1="705" x2="1023" y1="0" y2="0" gradientUnits="userSpaceOnUse"><stop offset="0.000" stop-color="#8e498d"/><stop offset="0.830" stop-color="#92498c"/><stop offset="0.953" stop-color="#9a498b"/><stop offset="1.000" stop-color="#9a498b"/></linearGradient>
<linearGradient id="r146" x1="705" x2="1023" y1="0" y2="0" gradientUnits="userSpaceOnUse"><stop offset="0.000" stop-color="#8e498d"/><stop offset="0.830" stop-color="#92498c"/><stop offset="0.953" stop-color="#9a498b"/><stop offset="1.000" stop-color="#9a498b"/></linearGradient>
<linearGradient id="r147" x1="705" x2="1023" y1="0" y2="0" gradientUnits="userSpaceOnUse"><stop offset="0.000" stop-color="#8e498d"/><stop offset="0.830" stop-color="#92498c"/><stop offset="0.953" stop-color="#9a498b"/><stop offset="1.000" stop-color="#9a498b"/></linearGradient>
<linearGradient id="r148" x1="705" x2="1023" y1="0" y2="0" gradientUnits="userSpaceOnUse"><stop offset="0.000" stop-color="#de4687"/><stop offset="0.538" stop-color="#eb4686"/><stop offset="0.792" stop-color="#e44686"/><stop offset="0.830" stop-color="#cd4688"/><stop offset="0.877" stop-color="#9f488b"/><stop offset="0.972" stop-color="#9a498b"/><stop offset="1.000" stop-color="#9a498b"/></linearGradient>
<linearGradient id="r149" x1="705" x2="1023" y1="0" y2="0" gradientUnits="userSpaceOnUse"><stop offset="0.000" stop-color="#de4687"/><stop offset="0.538" stop-color="#eb4686"/><stop offset="0.802" stop-color="#e34687"/><stop offset="0.896" stop-color="#c24789"/><stop offset="1.000" stop-color="#c24789"/></linearGradient>
<linearGradient id="r150" x1="705" x2="1023" y1="0" y2="0" gradientUnits="userSpaceOnUse"><stop offset="0.000" stop-color="#de4687"/><stop offset="0.538" stop-color="#eb4686"/><stop offset="0.792" stop-color="#e44686"/><stop offset="0.840" stop-color="#cc4688"/><stop offset="0.877" stop-color="#af4789"/><stop offset="1.000" stop-color="#ab488a"/></linearGradient>
<linearGradient id="r151" x1="705" x2="1023" y1="0" y2="0" gradientUnits="userSpaceOnUse"><stop offset="0.000" stop-color="#de4687"/><stop offset="0.538" stop-color="#eb4686"/><stop offset="0.792" stop-color="#e44686"/><stop offset="0.830" stop-color="#d04688"/><stop offset="0.877" stop-color="#a8488a"/><stop offset="0.972" stop-color="#a3488a"/><stop offset="1.000" stop-color="#a3488a"/></linearGradient>
<linearGradient id="r152" x1="705" x2="1023" y1="0" y2="0" gradientUnits="userSpaceOnUse"><stop offset="0.000" stop-color="#c34789"/><stop offset="0.840" stop-color="#bf4789"/><stop offset="1.000" stop-color="#bb4789"/></linearGradient>
<linearGradient id="r153" x1="705" x2="1023" y1="0" y2="0" gradientUnits="userSpaceOnUse"><stop offset="0.000" stop-color="#c34789"/><stop offset="0.811" stop-color="#bf4789"/><stop offset="0.896" stop-color="#a5488a"/><stop offset="1.000" stop-color="#a5488a"/></linearGradient>
<linearGradient id="r154" x1="705" x2="1023" y1="0" y2="0" gradientUnits="userSpaceOnUse"><stop offset="0.000" stop-color="#c34789"/><stop offset="0.821" stop-color="#bf4789"/><stop offset="0.906" stop-color="#b24789"/><stop offset="1.000" stop-color="#b24789"/></linearGradient>
<linearGradient id="r155" x1="705" x2="1023" y1="0" y2="0" gradientUnits="userSpaceOnUse"><stop offset="0.000" stop-color="#92498c"/><stop offset="0.321" stop-color="#8a4a8d"/><stop offset="0.623" stop-color="#894a8d"/><stop offset="0.792" stop-color="#8b498d"/><stop offset="0.934" stop-color="#9f488b"/><stop offset="1.000" stop-color="#9f488b"/></linearGradient>
<linearGradient id="r156" x1="705" x2="1023" y1="0" y2="0" gradientUnits="userSpaceOnUse"><stop offset="0.000" stop-color="#92498c"/><stop offset="0.321" stop-color="#8a4a8d"/><stop offset="0.623" stop-color="#894a8d"/><stop offset="0.792" stop-color="#8b498d"/><stop offset="0.934" stop-color="#9f488b"/><stop offset="1.000" stop-color="#9f488b"/></linearGradient>
<linearGradient id="r157" x1="705" x2="1023" y1="0" y2="0" gradientUnits="userSpaceOnUse"><stop offset="0.000" stop-color="#92498c"/><stop offset="0.321" stop-color="#8a4a8d"/><stop offset="0.623" stop-color="#894a8d"/><stop offset="0.792" stop-color="#8b498d"/><stop offset="0.934" stop-color="#9f488b"/><stop offset="1.000" stop-color="#9f488b"/></linearGradient>
<linearGradient id="r158" x1="705" x2="1023" y1="0" y2="0" gradientUnits="userSpaceOnUse"><stop offset="0.000" stop-color="#92498c"/><stop offset="0.321" stop-color="#8a4a8d"/><stop offset="0.623" stop-color="#894a8d"/><stop offset="0.792" stop-color="#8b498d"/><stop offset="0.934" stop-color="#9f488b"/><stop offset="1.000" stop-color="#9f488b"/></linearGradient>
<linearGradient id="r159" x1="705" x2="1023" y1="0" y2="0" gradientUnits="userSpaceOnUse"><stop offset="0.000" stop-color="#92498c"/><stop offset="0.321" stop-color="#8a4a8d"/><stop offset="0.623" stop-color="#894a8d"/><stop offset="0.792" stop-color="#8b498d"/><stop offset="0.934" stop-color="#9f488b"/><stop offset="1.000" stop-color="#9f488b"/></linearGradient>
<linearGradient id="r160" x1="705" x2="1023" y1="0" y2="0" gradientUnits="userSpaceOnUse"><stop offset="0.000" stop-color="#c34789"/><stop offset="0.811" stop-color="#c04789"/><stop offset="0.906" stop-color="#b14789"/><stop offset="1.000" stop-color="#b14789"/></linearGradient>
<linearGradient id="r161" x1="705" x2="1023" y1="0" y2="0" gradientUnits="userSpaceOnUse"><stop offset="0.000" stop-color="#c34789"/><stop offset="0.840" stop-color="#bf4789"/><stop offset="1.000" stop-color="#ba4789"/></linearGradient>
<linearGradient id="r162" x1="705" x2="1023" y1="0" y2="0" gradientUnits="userSpaceOnUse"><stop offset="0.000" stop-color="#c34789"/><stop offset="1.000" stop-color="#c34688"/></linearGradient>
<linearGradient id="r163" x1="705" x2="1023" y1="0" y2="0" gradientUnits="userSpaceOnUse"><stop offset="0.000" stop-color="#e74686"/><stop offset="0.802" stop-color="#e54686"/><stop offset="0.896" stop-color="#bd4789"/><stop offset="1.000" stop-color="#bd4789"/></linearGradient>
<linearGradient id="r164" x1="705" x2="1023" y1="0" y2="0" gradientUnits="userSpaceOnUse"><stop offset="0.000" stop-color="#e74686"/><stop offset="0.811" stop-color="#e34687"/><stop offset="0.896" stop-color="#c64688"/><stop offset="1.000" stop-color="#c64688"/></linearGradient>
<linearGradient id="r165" x1="705" x2="1023" y1="0" y2="0" gradientUnits="userSpaceOnUse"><stop offset="0.000" stop-color="#e74686"/><stop offset="0.802" stop-color="#e54686"/><stop offset="0.896" stop-color="#c44688"/><stop offset="1.000" stop-color="#c44688"/></linearGradient>
<linearGradient id="r166" x1="705" x2="1023" y1="0" y2="0" gradientUnits="userSpaceOnUse"><stop offset="0.000" stop-color="#ef4685"/><stop offset="0.802" stop-color="#ed4685"/><stop offset="0.840" stop-color="#d34688"/><stop offset="0.877" stop-color="#ad488a"/><stop offset="0.915" stop-color="#a6488a"/><stop offset="1.000" stop-color="#a6488a"/></linearGradient></defs>
<g filter="url(#blurv)"><rect x="705" y="196" width="318" height="2" fill="url(#r0)"/>
<rect x="705" y="198" width="318" height="2" fill="url(#r1)"/>
<rect x="705" y="200" width="318" height="2" fill="url(#r2)"/>
<rect x="705" y="202" width="318" height="2" fill="url(#r3)"/>
<rect x="705" y="204" width="318" height="2" fill="url(#r4)"/>
<rect x="705" y="206" width="318" height="2" fill="url(#r5)"/>
<rect x="705" y="208" width="318" height="2" fill="url(#r6)"/>
<rect x="705" y="210" width="318" height="2" fill="url(#r7)"/>
<rect x="705" y="212" width="318" height="2" fill="url(#r8)"/>
<rect x="705" y="214" width="318" height="2" fill="url(#r9)"/>
<rect x="705" y="216" width="318" height="2" fill="url(#r10)"/>
<rect x="705" y="218" width="318" height="2" fill="url(#r11)"/>
<rect x="705" y="220" width="318" height="2" fill="url(#r12)"/>
<rect x="705" y="222" width="318" height="2" fill="url(#r13)"/>
<rect x="705" y="224" width="318" height="2" fill="url(#r14)"/>
<rect x="705" y="226" width="318" height="2" fill="url(#r15)"/>
<rect x="705" y="228" width="318" height="2" fill="url(#r16)"/>
<rect x="705" y="230" width="318" height="2" fill="url(#r17)"/>
<rect x="705" y="232" width="318" height="2" fill="url(#r18)"/>
<rect x="705" y="234" width="318" height="2" fill="url(#r19)"/>
<rect x="705" y="236" width="318" height="2" fill="url(#r20)"/>
<rect x="705" y="238" width="318" height="2" fill="url(#r21)"/>
<rect x="705" y="240" width="318" height="2" fill="url(#r22)"/>
<rect x="705" y="242" width="318" height="2" fill="url(#r23)"/>
<rect x="705" y="244" width="318" height="2" fill="url(#r24)"/>
<rect x="705" y="246" width="318" height="2" fill="url(#r25)"/>
<rect x="705" y="248" width="318" height="2" fill="url(#r26)"/>
<rect x="705" y="250" width="318" height="2" fill="url(#r27)"/>
<rect x="705" y="252" width="318" height="2" fill="url(#r28)"/>
<rect x="705" y="254" width="318" height="2" fill="url(#r29)"/>
<rect x="705" y="256" width="318" height="2" fill="url(#r30)"/>
<rect x="705" y="258" width="318" height="2" fill="url(#r31)"/>
<rect x="705" y="260" width="318" height="2" fill="url(#r32)"/>
<rect x="705" y="262" width="318" height="2" fill="url(#r33)"/>
<rect x="705" y="264" width="318" height="2" fill="url(#r34)"/>
<rect x="705" y="266" width="318" height="2" fill="url(#r35)"/>
<rect x="705" y="268" width="318" height="2" fill="url(#r36)"/>
<rect x="705" y="270" width="318" height="2" fill="url(#r37)"/>
<rect x="705" y="272" width="318" height="2" fill="url(#r38)"/>
<rect x="705" y="274" width="318" height="2" fill="url(#r39)"/>
<rect x="705" y="276" width="318" height="2" fill="url(#r40)"/>
<rect x="705" y="278" width="318" height="2" fill="url(#r41)"/>
<rect x="705" y="280" width="318" height="2" fill="url(#r42)"/>
<rect x="705" y="282" width="318" height="2" fill="url(#r43)"/>
<rect x="705" y="284" width="318" height="2" fill="url(#r44)"/>
<rect x="705" y="286" width="318" height="2" fill="url(#r45)"/>
<rect x="705" y="288" width="318" height="2" fill="url(#r46)"/>
<rect x="705" y="290" width="318" height="2" fill="url(#r47)"/>
<rect x="705" y="292" width="318" height="2" fill="url(#r48)"/>
<rect x="705" y="294" width="318" height="2" fill="url(#r49)"/>
<rect x="705" y="296" width="318" height="2" fill="url(#r50)"/>
<rect x="705" y="298" width="318" height="2" fill="url(#r51)"/>
<rect x="705" y="300" width="318" height="2" fill="url(#r52)"/>
<rect x="705" y="302" width="318" height="2" fill="url(#r53)"/>
<rect x="705" y="304" width="318" height="2" fill="url(#r54)"/>
<rect x="705" y="306" width="318" height="2" fill="url(#r55)"/>
<rect x="705" y="308" width="318" height="2" fill="url(#r56)"/>
<rect x="705" y="310" width="318" height="2" fill="url(#r57)"/>
<rect x="705" y="312" width="318" height="2" fill="url(#r58)"/>
<rect x="705" y="314" width="318" height="2" fill="url(#r59)"/>
<rect x="705" y="316" width="318" height="2" fill="url(#r60)"/>
<rect x="705" y="318" width="318" height="2" fill="url(#r61)"/>
<rect x="705" y="320" width="318" height="2" fill="url(#r62)"/>
<rect x="705" y="322" width="318" height="2" fill="url(#r63)"/>
<rect x="705" y="324" width="318" height="2" fill="url(#r64)"/>
<rect x="705" y="326" width="318" height="2" fill="url(#r65)"/>
<rect x="705" y="328" width="318" height="2" fill="url(#r66)"/>
<rect x="705" y="330" width="318" height="2" fill="url(#r67)"/>
<rect x="705" y="332" width="318" height="2" fill="url(#r68)"/>
<rect x="705" y="334" width="318" height="2" fill="url(#r69)"/>
<rect x="705" y="336" width="318" height="2" fill="url(#r70)"/>
<rect x="705" y="338" width="318" height="2" fill="url(#r71)"/>
<rect x="705" y="340" width="318" height="2" fill="url(#r72)"/>
<rect x="705" y="342" width="318" height="2" fill="url(#r73)"/>
<rect x="705" y="344" width="318" height="2" fill="url(#r74)"/>
<rect x="705" y="346" width="318" height="2" fill="url(#r75)"/>
<rect x="705" y="348" width="318" height="2" fill="url(#r76)"/>
<rect x="705" y="350" width="318" height="2" fill="url(#r77)"/>
<rect x="705" y="352" width="318" height="2" fill="url(#r78)"/>
<rect x="705" y="354" width="318" height="2" fill="url(#r79)"/>
<rect x="705" y="356" width="318" height="2" fill="url(#r80)"/>
<rect x="705" y="358" width="318" height="2" fill="url(#r81)"/>
<rect x="705" y="360" width="318" height="2" fill="url(#r82)"/>
<rect x="705" y="362" width="318" height="2" fill="url(#r83)"/>
<rect x="705" y="364" width="318" height="2" fill="url(#r84)"/>
<rect x="705" y="366" width="318" height="2" fill="url(#r85)"/>
<rect x="705" y="368" width="318" height="2" fill="url(#r86)"/>
<rect x="705" y="370" width="318" height="2" fill="url(#r87)"/>
<rect x="705" y="372" width="318" height="2" fill="url(#r88)"/>
<rect x="705" y="374" width="318" height="2" fill="url(#r89)"/>
<rect x="705" y="376" width="318" height="2" fill="url(#r90)"/>
<rect x="705" y="378" width="318" height="2" fill="url(#r91)"/>
<rect x="705" y="380" width="318" height="2" fill="url(#r92)"/>
<rect x="705" y="382" width="318" height="2" fill="url(#r93)"/>
<rect x="705" y="384" width="318" height="2" fill="url(#r94)"/>
<rect x="705" y="386" width="318" height="2" fill="url(#r95)"/>
<rect x="705" y="388" width="318" height="2" fill="url(#r96)"/>
<rect x="705" y="390" width="318" height="2" fill="url(#r97)"/>
<rect x="705" y="392" width="318" height="2" fill="url(#r98)"/>
<rect x="705" y="394" width="318" height="2" fill="url(#r99)"/>
<rect x="705" y="396" width="318" height="2" fill="url(#r100)"/>
<rect x="705" y="398" width="318" height="2" fill="url(#r101)"/>
<rect x="705" y="400" width="318" height="2" fill="url(#r102)"/>
<rect x="705" y="402" width="318" height="2" fill="url(#r103)"/>
<rect x="705" y="404" width="318" height="2" fill="url(#r104)"/>
<rect x="705" y="406" width="318" height="2" fill="url(#r105)"/>
<rect x="705" y="408" width="318" height="2" fill="url(#r106)"/>
<rect x="705" y="410" width="318" height="2" fill="url(#r107)"/>
<rect x="705" y="412" width="318" height="2" fill="url(#r108)"/>
<rect x="705" y="414" width="318" height="2" fill="url(#r109)"/>
<rect x="705" y="416" width="318" height="2" fill="url(#r110)"/>
<rect x="705" y="418" width="318" height="2" fill="url(#r111)"/>
<rect x="705" y="420" width="318" height="2" fill="url(#r112)"/>
<rect x="705" y="422" width="318" height="2" fill="url(#r113)"/>
<rect x="705" y="424" width="318" height="2" fill="url(#r114)"/>
<rect x="705" y="426" width="318" height="2" fill="url(#r115)"/>
<rect x="705" y="428" width="318" height="2" fill="url(#r116)"/>
<rect x="705" y="430" width="318" height="2" fill="url(#r117)"/>
<rect x="705" y="432" width="318" height="2" fill="url(#r118)"/>
<rect x="705" y="434" width="318" height="2" fill="url(#r119)"/>
<rect x="705" y="436" width="318" height="2" fill="url(#r120)"/>
<rect x="705" y="438" width="318" height="2" fill="url(#r121)"/>
<rect x="705" y="440" width="318" height="2" fill="url(#r122)"/>
<rect x="705" y="442" width="318" height="2" fill="url(#r123)"/>
<rect x="705" y="444" width="318" height="2" fill="url(#r124)"/>
<rect x="705" y="446" width="318" height="2" fill="url(#r125)"/>
<rect x="705" y="448" width="318" height="2" fill="url(#r126)"/>
<rect x="705" y="450" width="318" height="2" fill="url(#r127)"/>
<rect x="705" y="452" width="318" height="2" fill="url(#r128)"/>
<rect x="705" y="454" width="318" height="2" fill="url(#r129)"/>
<rect x="705" y="456" width="318" height="2" fill="url(#r130)"/>
<rect x="705" y="458" width="318" height="2" fill="url(#r131)"/>
<rect x="705" y="460" width="318" height="2" fill="url(#r132)"/>
<rect x="705" y="462" width="318" height="2" fill="url(#r133)"/>
<rect x="705" y="464" width="318" height="2" fill="url(#r134)"/>
<rect x="705" y="466" width="318" height="2" fill="url(#r135)"/>
<rect x="705" y="468" width="318" height="2" fill="url(#r136)"/>
<rect x="705" y="470" width="318" height="2" fill="url(#r137)"/>
<rect x="705" y="472" width="318" height="2" fill="url(#r138)"/>
<rect x="705" y="474" width="318" height="2" fill="url(#r139)"/>
<rect x="705" y="476" width="318" height="2" fill="url(#r140)"/>
<rect x="705" y="478" width="318" height="2" fill="url(#r141)"/>
<rect x="705" y="480" width="318" height="2" fill="url(#r142)"/>
<rect x="705" y="482" width="318" height="2" fill="url(#r143)"/>
<rect x="705" y="484" width="318" height="2" fill="url(#r144)"/>
<rect x="705" y="486" width="318" height="2" fill="url(#r145)"/>
<rect x="705" y="488" width="318" height="2" fill="url(#r146)"/>
<rect x="705" y="490" width="318" height="2" fill="url(#r147)"/>
<rect x="705" y="492" width="318" height="2" fill="url(#r148)"/>
<rect x="705" y="494" width="318" height="2" fill="url(#r149)"/>
<rect x="705" y="496" width="318" height="2" fill="url(#r150)"/>
<rect x="705" y="498" width="318" height="2" fill="url(#r151)"/>
<rect x="705" y="500" width="318" height="2" fill="url(#r152)"/>
<rect x="705" y="502" width="318" height="2" fill="url(#r153)"/>
<rect x="705" y="504" width="318" height="2" fill="url(#r154)"/>
<rect x="705" y="506" width="318" height="2" fill="url(#r155)"/>
<rect x="705" y="508" width="318" height="2" fill="url(#r156)"/>
<rect x="705" y="510" width="318" height="2" fill="url(#r157)"/>
<rect x="705" y="512" width="318" height="2" fill="url(#r158)"/>
<rect x="705" y="514" width="318" height="2" fill="url(#r159)"/>
<rect x="705" y="516" width="318" height="2" fill="url(#r160)"/>
<rect x="705" y="518" width="318" height="2" fill="url(#r161)"/>
<rect x="705" y="520" width="318" height="2" fill="url(#r162)"/>
<rect x="705" y="522" width="318" height="2" fill="url(#r163)"/>
<rect x="705" y="524" width="318" height="2" fill="url(#r164)"/>
<rect x="705" y="526" width="318" height="2" fill="url(#r165)"/>
<rect x="705" y="528" width="318" height="2" fill="url(#r166)"/></g>
<g filter="url(#blur1)">
<rect x="1022" y="300" width="154" height="3" fill="#db4687"/>
<rect x="1022" y="303" width="154" height="3" fill="#ee4685"/>
<rect x="1022" y="306" width="154" height="3" fill="#e54686"/>
<rect x="1022" y="309" width="154" height="3" fill="#ec4686"/>
<rect x="1022" y="312" width="154" height="3" fill="#e54686"/>
<rect x="1022" y="315" width="154" height="3" fill="#dd4687"/>
<rect x="1022" y="318" width="154" height="3" fill="#ec4686"/>
<rect x="1022" y="321" width="154" height="3" fill="#ee4685"/>
<rect x="1022" y="324" width="154" height="3" fill="#e84686"/>
<rect x="1022" y="327" width="154" height="3" fill="#df4687"/>
<rect x="1022" y="330" width="154" height="3" fill="#ee4685"/>
<rect x="1022" y="333" width="154" height="3" fill="#e44686"/>
<rect x="1022" y="336" width="154" height="3" fill="#dd4687"/>
<rect x="1022" y="339" width="154" height="3" fill="#de4687"/>
<rect x="1022" y="342" width="154" height="3" fill="#ec4686"/>
<rect x="1022" y="345" width="154" height="3" fill="#e84686"/>
<rect x="1022" y="348" width="154" height="3" fill="#e24687"/>
<rect x="1022" y="351" width="154" height="3" fill="#ee4685"/>
<rect x="1022" y="354" width="154" height="3" fill="#dc4687"/>
<rect x="1022" y="357" width="154" height="3" fill="#ee4685"/>
<rect x="1022" y="360" width="154" height="3" fill="#e34686"/>
<rect x="1022" y="363" width="154" height="3" fill="#ec4686"/>
<rect x="1022" y="366" width="154" height="3" fill="#eb4686"/>
<rect x="1022" y="369" width="154" height="3" fill="#e64686"/>
<rect x="1022" y="372" width="154" height="3" fill="#de4687"/>
<rect x="1022" y="375" width="154" height="3" fill="#e74686"/>
<rect x="1022" y="378" width="154" height="3" fill="#e74686"/>
<rect x="1022" y="381" width="154" height="3" fill="#e14687"/>
<rect x="1022" y="384" width="154" height="3" fill="#eb4686"/>
<rect x="1022" y="387" width="154" height="3" fill="#ee4685"/>
<rect x="1022" y="390" width="154" height="3" fill="#e54686"/>
<rect x="1022" y="393" width="154" height="3" fill="#e84686"/>
<rect x="1022" y="396" width="154" height="3" fill="#ec4686"/>
<rect x="1022" y="399" width="154" height="3" fill="#e54686"/>
<rect x="1022" y="402" width="154" height="3" fill="#ee4685"/>
<rect x="1022" y="405" width="154" height="3" fill="#ee4685"/>
<rect x="1022" y="408" width="154" height="3" fill="#e64686"/>
<rect x="1022" y="411" width="154" height="3" fill="#e74686"/>
<rect x="1022" y="414" width="154" height="3" fill="#e84686"/>
<rect x="1022" y="417" width="154" height="3" fill="#e84686"/>
<rect x="1022" y="420" width="154" height="3" fill="#ec4686"/>
<rect x="1022" y="423" width="154" height="3" fill="#ed4685"/>
<rect x="1022" y="426" width="154" height="3" fill="#ec4686"/>
<rect x="1022" y="429" width="154" height="3" fill="#ee4685"/>
<rect x="1022" y="432" width="154" height="3" fill="#de4687"/>
<rect x="1022" y="435" width="154" height="3" fill="#dd4687"/>
<rect x="1022" y="438" width="154" height="3" fill="#ee4685"/>
<rect x="1022" y="441" width="154" height="3" fill="#ee4685"/>
<rect x="1022" y="444" width="154" height="3" fill="#df4687"/>
<rect x="1022" y="447" width="154" height="3" fill="#e84686"/>
<rect x="1022" y="450" width="154" height="3" fill="#eb4686"/>
<rect x="1022" y="453" width="154" height="3" fill="#ec4686"/>
<rect x="1022" y="456" width="154" height="3" fill="#ee4685"/>
<rect x="1022" y="459" width="154" height="3" fill="#e94686"/>
<rect x="1022" y="462" width="154" height="3" fill="#ee4685"/>
<rect x="1022" y="465" width="154" height="3" fill="#e64686"/>
<rect x="1022" y="468" width="154" height="3" fill="#e34686"/>
<rect x="1022" y="471" width="154" height="3" fill="#e54686"/>
<rect x="1022" y="474" width="154" height="3" fill="#ee4685"/>
<rect x="1022" y="477" width="154" height="3" fill="#e34687"/>
<rect x="1022" y="480" width="154" height="3" fill="#e04687"/>
<rect x="1022" y="483" width="154" height="3" fill="#ec4686"/>
<rect x="1022" y="486" width="154" height="3" fill="#ee4685"/>
<rect x="1022" y="489" width="154" height="3" fill="#e24687"/>
<rect x="1022" y="492" width="154" height="3" fill="#ee4685"/>
<rect x="1022" y="495" width="154" height="3" fill="#e24687"/>
<rect x="1022" y="498" width="154" height="3" fill="#ec4686"/>
<rect x="1022" y="501" width="154" height="3" fill="#dc4687"/>
<rect x="1022" y="504" width="154" height="3" fill="#e54686"/>
<rect x="1022" y="507" width="154" height="3" fill="#e64686"/>
<rect x="1022" y="510" width="154" height="3" fill="#e94686"/>
<rect x="1022" y="513" width="154" height="3" fill="#ea4686"/>
<rect x="1022" y="516" width="154" height="3" fill="#e44686"/>
<rect x="1022" y="519" width="154" height="3" fill="#e74686"/>
<rect x="1022" y="522" width="154" height="3" fill="#e44686"/>
<rect x="1022" y="525" width="154" height="3" fill="#ec4686"/>
<rect x="1022" y="528" width="154" height="3" fill="#e74686"/>
<rect x="1047.5" y="69" width="3.4" height="231" fill="#6e4a92" opacity="0.85"/>
<rect x="1047.5" y="300" width="3.4" height="229" fill="#6e4a92" opacity="0.85"/>
<rect x="1058.5" y="69" width="2.6" height="231" fill="#6e4a92" opacity="0.55"/>
<rect x="1058.5" y="300" width="2.6" height="229" fill="#6e4a92" opacity="0.6"/>
<rect x="1067.5" y="69" width="2" height="231" fill="#6e4a92" opacity="0.17"/>
<rect x="1067.5" y="300" width="2" height="229" fill="#6e4a92" opacity="0.55"/>
<rect x="1083.7" y="69" width="3.4" height="231" fill="#6e4a92" opacity="0.85"/>
<rect x="1083.7" y="300" width="3.4" height="229" fill="#6e4a92" opacity="0.85"/>
<rect x="1095.0" y="69" width="2" height="231" fill="#6e4a92" opacity="0.17"/>
<rect x="1095.0" y="300" width="2" height="229" fill="#6e4a92" opacity="0.55"/>
<rect x="1101.7" y="69" width="2.6" height="231" fill="#6e4a92" opacity="0.25"/>
<rect x="1101.7" y="300" width="2.6" height="229" fill="#6e4a92" opacity="0.6"/>
<rect x="1109.6" y="69" width="2" height="231" fill="#6e4a92" opacity="0.17"/>
<rect x="1109.6" y="300" width="2" height="229" fill="#6e4a92" opacity="0.5"/>
<rect x="1117.0" y="69" width="2" height="231" fill="#6e4a92" opacity="0.14"/>
<rect x="1117.0" y="300" width="2" height="229" fill="#6e4a92" opacity="0.5"/>
<rect x="1125.2" y="69" width="3.4" height="231" fill="#6e4a92" opacity="0.85"/>
<rect x="1125.2" y="300" width="3.4" height="229" fill="#6e4a92" opacity="0.85"/>
<rect x="1135.2" y="69" width="2.8" height="231" fill="#6e4a92" opacity="0.60"/>
<rect x="1135.2" y="300" width="2.8" height="229" fill="#6e4a92" opacity="0.65"/>
<rect x="1146.8" y="69" width="2" height="231" fill="#6e4a92" opacity="0.17"/>
<rect x="1146.8" y="300" width="2" height="229" fill="#6e4a92" opacity="0.5"/>
<rect x="1154.0" y="69" width="2" height="231" fill="#6e4a92" opacity="0.17"/>
<rect x="1154.0" y="300" width="2" height="229" fill="#6e4a92" opacity="0.5"/>
<rect x="1161.0" y="69" width="2.8" height="231" fill="#6e4a92" opacity="0.55"/>
<rect x="1161.0" y="300" width="2.8" height="229" fill="#6e4a92" opacity="0.65"/>
<rect x="1169.4" y="69" width="2.2" height="231" fill="#6e4a92" opacity="0.22"/>
<rect x="1169.4" y="300" width="2.2" height="229" fill="#6e4a92" opacity="0.5"/>
<rect x="1027.0" y="69" width="2" height="231" fill="#6e4a92" opacity="0.08"/>
<rect x="1027.0" y="300" width="2" height="229" fill="#6e4a92" opacity="0.5"/>
<rect x="1034.0" y="69" width="2" height="231" fill="#6e4a92" opacity="0.08"/>
<rect x="1034.0" y="300" width="2" height="229" fill="#6e4a92" opacity="0.55"/>
<rect x="1041.0" y="69" width="2" height="231" fill="#6e4a92" opacity="0.11"/>
<rect x="1041.0" y="300" width="2" height="229" fill="#6e4a92" opacity="0.55"/>
<rect x="1053.0" y="69" width="2" height="231" fill="#6e4a92" opacity="0.11"/>
<rect x="1053.0" y="300" width="2" height="229" fill="#6e4a92" opacity="0.3"/>
<rect x="1063.0" y="69" width="2" height="231" fill="#6e4a92" opacity="0.11"/>
<rect x="1063.0" y="300" width="2" height="229" fill="#6e4a92" opacity="0.5"/>
<rect x="1072.0" y="69" width="2" height="231" fill="#6e4a92" opacity="0.11"/>
<rect x="1072.0" y="300" width="2" height="229" fill="#6e4a92" opacity="0.5"/>
<rect x="1078.0" y="69" width="2" height="231" fill="#6e4a92" opacity="0.11"/>
<rect x="1078.0" y="300" width="2" height="229" fill="#6e4a92" opacity="0.55"/>
<rect x="1090.0" y="69" width="2" height="231" fill="#6e4a92" opacity="0.11"/>
<rect x="1090.0" y="300" width="2" height="229" fill="#6e4a92" opacity="0.3"/>
<rect x="1113.0" y="69" width="2" height="231" fill="#6e4a92" opacity="0.08"/>
<rect x="1113.0" y="300" width="2" height="229" fill="#6e4a92" opacity="0.5"/>
<rect x="1121.0" y="69" width="2" height="231" fill="#6e4a92" opacity="0.08"/>
<rect x="1121.0" y="300" width="2" height="229" fill="#6e4a92" opacity="0.5"/>
<rect x="1130.0" y="69" width="2" height="231" fill="#6e4a92" opacity="0.11"/>
<rect x="1130.0" y="300" width="2" height="229" fill="#6e4a92" opacity="0.5"/>
<rect x="1141.0" y="69" width="2" height="231" fill="#6e4a92" opacity="0.08"/>
<rect x="1141.0" y="300" width="2" height="229" fill="#6e4a92" opacity="0.5"/>
<rect x="1150.0" y="69" width="2" height="231" fill="#6e4a92" opacity="0.08"/>
<rect x="1150.0" y="300" width="2" height="229" fill="#6e4a92" opacity="0.5"/>
<rect x="1165.0" y="69" width="2" height="231" fill="#6e4a92" opacity="0.11"/>
<rect x="1165.0" y="300" width="2" height="229" fill="#6e4a92" opacity="0.5"/>
<rect x="1173.0" y="69" width="2" height="231" fill="#6e4a92" opacity="0.11"/>
<rect x="1173.0" y="300" width="2" height="229" fill="#6e4a92" opacity="0.4"/>
<rect x="1057" y="300" width="15" height="229" fill="#6e4a92" opacity="0.3"/>
<rect x="1095" y="300" width="15" height="229" fill="#6e4a92" opacity="0.3"/>
<rect x="1030" y="300" width="14" height="229" fill="#6e4a92" opacity="0.2"/>
<rect x="1130" y="300" width="15" height="229" fill="#6e4a92" opacity="0.2"/>
<rect x="1158" y="300" width="14" height="229" fill="#6e4a92" opacity="0.25"/>
<rect x="1022" y="330" width="154" height="5" fill="#ef4685" opacity="0.75"/>
<rect x="1022" y="355" width="154" height="4" fill="#ef4685" opacity="0.5"/>
<rect x="1022" y="372" width="154" height="3" fill="#ef4685" opacity="0.4"/>
<rect x="1022" y="395" width="154" height="5" fill="#ef4685" opacity="0.55"/>
<rect x="1022" y="418" width="154" height="3" fill="#ef4685" opacity="0.4"/>
<rect x="1022" y="437" width="154" height="4" fill="#ef4685" opacity="0.55"/>
<rect x="1022" y="466" width="154" height="4" fill="#ef4685" opacity="0.5"/>
<rect x="1022" y="482" width="154" height="3" fill="#ef4685" opacity="0.4"/>
<rect x="1022" y="498" width="154" height="4" fill="#ef4685" opacity="0.55"/>
<rect x="1022" y="515" width="154" height="3" fill="#ef4685" opacity="0.4"/>
<rect x="997.5" y="69" width="5" height="131" fill="#6e4a92" opacity="0.45"/>
<rect x="997.5" y="200" width="5" height="80" fill="#6e4a92" opacity="0.36000000000000004"/>
<rect x="1012.5" y="69" width="4" height="131" fill="#6e4a92" opacity="0.7"/>
<rect x="1012.5" y="200" width="4" height="80" fill="#6e4a92" opacity="0.5599999999999999"/>
</g>
<line x1="708.7" y1="300.5" x2="1176" y2="300.5" stroke="#ffffff" stroke-width="4" stroke-dasharray="17.5 9.4" opacity="0.95"/>
<line x1="986.2" y1="86.8" x2="986.2" y2="528" stroke="#ffffff" stroke-width="3" stroke-dasharray="10.5 7.3" stroke-dashoffset="5.2" opacity="0.95"/>
<line x1="1021.9" y1="86.8" x2="1021.9" y2="528" stroke="#ffffff" stroke-width="3" stroke-dasharray="10.5 7.3" stroke-dashoffset="5.2" opacity="0.95"/>
<line x1="1156.6" y1="86" x2="1156.6" y2="285" stroke="#ffffff" stroke-width="4.6" stroke-dasharray="12 13.5"/>
<polygon points="1156.6,72 1165,87.5 1148.2,87.5" fill="#ffffff"/>
<polygon points="1156.6,298 1165,282.5 1148.2,282.5" fill="#ffffff"/>
<line x1="1156.6" y1="328" x2="1156.6" y2="500" stroke="#ffffff" stroke-width="4.6" stroke-dasharray="12 13.5"/>
<polygon points="1156.6,313 1165,328.5 1148.2,328.5" fill="#ffffff"/>
<polygon points="1156.6,514.5 1165,499 1148.2,499" fill="#ffffff"/>
<path d="M708,425 L710,395 L712,365 L714,335 L715.8,315.8 L717.5,318 L719.5,323 L721.5,325.5 L724,324.5 L728,323.2 L732.0,322.8 L738.0,323.3 L744.0,323.0 L750.0,323.3 L756.0,323.4 L762.0,322.6 L768.0,322.5 L774.0,323.7 L780.0,322.9 L786.0,322.8 L792.0,323.9 L798.0,323.2 L804.0,323.7 L810.0,323.2 L816.0,323.4 L822.0,322.7 L828.0,323.4 L834.0,323.7 L840.0,323.2 L846.0,323.5 L852.0,323.4 L858.0,322.6 L864.0,323.6 L870.0,323.3 L876.0,322.9 L882.0,322.5 L888.0,323.7 L894.0,323.2 L900.0,323.5 L906.0,323.7 L912.0,323.5 L918.0,323.8 L924.0,323.1 L930,324.5 L941.3,323.2 L952.6,318.6 L961.7,313 L968.5,306.2 L973,299.4 L977.6,293.1 L982.1,287.5 L985.5,284.6 L986.6,281.3 L990,279.6 L995.7,277.3 L1000.2,275.6 L1005.3,271.6 L1008.1,275.6 L1009.8,288 L1011.5,292 L1014.4,292.6 L1016.6,298.2 L1018.3,313 L1019.5,330 L1019.8,420 L1020,529" fill="none" stroke="#e6e0f4" stroke-width="2" stroke-linejoin="round"/>
<path d="M711.5,529 L712.5,505 L713.8,485 L715,470 L716.2,463 L718,466 L720,471.5 L721.5,474.3 L724,473.2 L728,472.3 L732.0,472.8 L738.0,472.3 L744.0,473.0 L750.0,472.9 L756.0,471.8 L762.0,471.9 L768.0,472.0 L774.0,473.1 L780.0,472.3 L786.0,472.6 L792.0,472.1 L798.0,472.4 L804.0,472.2 L810.0,472.2 L816.0,472.5 L822.0,472.5 L828.0,473.0 L834.0,472.7 L840.0,473.0 L846.0,472.9 L852.0,473.1 L858.0,472.6 L864.0,471.9 L870.0,472.9 L876.0,473.1 L882.0,473.0 L888.0,472.5 L894.0,472.7 L900.0,472.0 L906.0,472.9 L912.0,472.5 L918.0,472.1 L924.0,471.8 L930,472.4 L942.1,470.5 L954.3,465.7 L962.8,459.6 L970,449.9 L976.1,442.6 L981,436.6 L987,429.3 L990.7,426.8 L995.5,425 L1000.4,422 L1002.8,423.2 L1005.8,419 L1007.7,422 L1010.1,437.8 L1013.7,439 L1016.2,445 L1018,459.6 L1019.3,480" fill="none" stroke="#e6e0f4" stroke-width="2" stroke-linejoin="round"/>
<line x1="933.4" y1="274.8" x2="1038" y2="274.8" stroke="#ffffff" stroke-width="3.2"/>
<polygon points="1039.5,271.8 1046.3,284.6 1039.5,297.4 1032.7,284.6" fill="none" stroke="#ffffff" stroke-width="2"/>
<line x1="1039.5" y1="279" x2="1039.5" y2="300" stroke="#ffffff" stroke-width="1.6"/>
<line x1="942" y1="381.5" x2="992" y2="381.5" stroke="#ffffff" stroke-width="2.2"/>
<polygon points="1004,381.5 988,375 988,388" fill="#ffffff"/>
<line x1="945" y1="384" x2="962" y2="388" stroke="#ffffff" stroke-width="2"/>
<polygon points="972,391 957,383 956,394" fill="#ffffff"/>
<text x="716.3" y="289.8" font-size="22" font-weight="bold" fill="#ffffff" stroke="#ffffff" stroke-width="0.6">E</text>
<text x="729.6" y="292.5" font-size="13" font-weight="bold" fill="#ffffff" stroke="#ffffff" stroke-width="0.4">F</text>
<text x="742" y="393.6" font-size="20" font-weight="bold" fill="#ffffff" textLength="204" lengthAdjust="spacingAndGlyphs">Distorted Si &amp; MIGS</text>
<text x="1048.8" y="297.3" font-size="24" fill="#ffffff" stroke="#ffffff" stroke-width="0.7" textLength="71" lengthAdjust="spacingAndGlyphs">ΔΦ&gt;0</text>
<text x="1069" y="196" font-size="21" font-style="italic" fill="#ffffff" stroke="#ffffff" stroke-width="0.4" textLength="63.5" lengthAdjust="spacingAndGlyphs">empty</text>
<text x="1054" y="423" font-size="20" font-style="italic" fill="#ffffff" stroke="#ffffff" stroke-width="0.4" textLength="89" lengthAdjust="spacingAndGlyphs">occupied</text>
</g>
<rect x="705.3" y="69.0" width="473.9000000000001" height="459.29999999999995" fill="none" stroke="#6e2448" stroke-width="2"/>
<line x1="705.3" y1="69.0" x2="709.3" y2="69.0" stroke="#6e2448" stroke-width="1.2"/>
<line x1="1175.2" y1="69.0" x2="1179.2" y2="69.0" stroke="#6e2448" stroke-width="1.2"/>
<text x="701.3" y="74.8" text-anchor="end" font-size="16.5" fill="#505050" stroke="#505050" stroke-width="0.6" textLength="24.3" lengthAdjust="spacingAndGlyphs">2.0</text>
<line x1="705.3" y1="126.4" x2="709.3" y2="126.4" stroke="#6e2448" stroke-width="1.2"/>
<line x1="1175.2" y1="126.4" x2="1179.2" y2="126.4" stroke="#6e2448" stroke-width="1.2"/>
<text x="701.3" y="132.2" text-anchor="end" font-size="16.5" fill="#505050" stroke="#505050" stroke-width="0.6" textLength="24.3" lengthAdjust="spacingAndGlyphs">1.5</text>
<line x1="705.3" y1="183.8" x2="709.3" y2="183.8" stroke="#6e2448" stroke-width="1.2"/>
<line x1="1175.2" y1="183.8" x2="1179.2" y2="183.8" stroke="#6e2448" stroke-width="1.2"/>
<text x="701.3" y="189.6" text-anchor="end" font-size="16.5" fill="#505050" stroke="#505050" stroke-width="0.6" textLength="24.3" lengthAdjust="spacingAndGlyphs">1.0</text>
<line x1="705.3" y1="241.2" x2="709.3" y2="241.2" stroke="#6e2448" stroke-width="1.2"/>
<line x1="1175.2" y1="241.2" x2="1179.2" y2="241.2" stroke="#6e2448" stroke-width="1.2"/>
<text x="701.3" y="247.0" text-anchor="end" font-size="16.5" fill="#505050" stroke="#505050" stroke-width="0.6" textLength="24.3" lengthAdjust="spacingAndGlyphs">0.5</text>
<line x1="705.3" y1="298.6" x2="709.3" y2="298.6" stroke="#6e2448" stroke-width="1.2"/>
<line x1="1175.2" y1="298.6" x2="1179.2" y2="298.6" stroke="#6e2448" stroke-width="1.2"/>
<text x="701.3" y="304.4" text-anchor="end" font-size="16.5" fill="#505050" stroke="#505050" stroke-width="0.6" textLength="24.3" lengthAdjust="spacingAndGlyphs">0.0</text>
<line x1="705.3" y1="356.1" x2="709.3" y2="356.1" stroke="#6e2448" stroke-width="1.2"/>
<line x1="1175.2" y1="356.1" x2="1179.2" y2="356.1" stroke="#6e2448" stroke-width="1.2"/>
<text x="701.3" y="361.9" text-anchor="end" font-size="16.5" fill="#505050" stroke="#505050" stroke-width="0.6" textLength="37.2" lengthAdjust="spacingAndGlyphs">−0.5</text>
<line x1="705.3" y1="413.5" x2="709.3" y2="413.5" stroke="#6e2448" stroke-width="1.2"/>
<line x1="1175.2" y1="413.5" x2="1179.2" y2="413.5" stroke="#6e2448" stroke-width="1.2"/>
<text x="701.3" y="419.3" text-anchor="end" font-size="16.5" fill="#505050" stroke="#505050" stroke-width="0.6" textLength="37.2" lengthAdjust="spacingAndGlyphs">−1.0</text>
<line x1="705.3" y1="470.9" x2="709.3" y2="470.9" stroke="#6e2448" stroke-width="1.2"/>
<line x1="1175.2" y1="470.9" x2="1179.2" y2="470.9" stroke="#6e2448" stroke-width="1.2"/>
<text x="701.3" y="476.7" text-anchor="end" font-size="16.5" fill="#505050" stroke="#505050" stroke-width="0.6" textLength="37.2" lengthAdjust="spacingAndGlyphs">−1.5</text>
<line x1="705.3" y1="528.3" x2="709.3" y2="528.3" stroke="#6e2448" stroke-width="1.2"/>
<line x1="1175.2" y1="528.3" x2="1179.2" y2="528.3" stroke="#6e2448" stroke-width="1.2"/>
<text x="701.3" y="534.1" text-anchor="end" font-size="16.5" fill="#505050" stroke="#505050" stroke-width="0.6" textLength="37.2" lengthAdjust="spacingAndGlyphs">−2.0</text>
<line x1="705.8" y1="528.3" x2="705.8" y2="524.3" stroke="#6e2448" stroke-width="1.2"/>
<line x1="705.8" y1="69.0" x2="705.8" y2="73.0" stroke="#6e2448" stroke-width="1.2"/>
<text x="705.8" y="546" text-anchor="middle" font-size="16.5" fill="#505050" stroke="#505050" stroke-width="0.6">0</text>
<line x1="767.7" y1="528.3" x2="767.7" y2="524.3" stroke="#6e2448" stroke-width="1.2"/>
<line x1="767.7" y1="69.0" x2="767.7" y2="73.0" stroke="#6e2448" stroke-width="1.2"/>
<text x="767.7" y="546" text-anchor="middle" font-size="16.5" fill="#505050" stroke="#505050" stroke-width="0.6">10</text>
<line x1="829.6" y1="528.3" x2="829.6" y2="524.3" stroke="#6e2448" stroke-width="1.2"/>
<line x1="829.6" y1="69.0" x2="829.6" y2="73.0" stroke="#6e2448" stroke-width="1.2"/>
<text x="829.6" y="546" text-anchor="middle" font-size="16.5" fill="#505050" stroke="#505050" stroke-width="0.6">20</text>
<line x1="891.5" y1="528.3" x2="891.5" y2="524.3" stroke="#6e2448" stroke-width="1.2"/>
<line x1="891.5" y1="69.0" x2="891.5" y2="73.0" stroke="#6e2448" stroke-width="1.2"/>
<text x="891.5" y="546" text-anchor="middle" font-size="16.5" fill="#505050" stroke="#505050" stroke-width="0.6">30</text>
<line x1="953.4" y1="528.3" x2="953.4" y2="524.3" stroke="#6e2448" stroke-width="1.2"/>
<line x1="953.4" y1="69.0" x2="953.4" y2="73.0" stroke="#6e2448" stroke-width="1.2"/>
<text x="953.4" y="546" text-anchor="middle" font-size="16.5" fill="#505050" stroke="#505050" stroke-width="0.6">40</text>
<line x1="1015.3" y1="528.3" x2="1015.3" y2="524.3" stroke="#6e2448" stroke-width="1.2"/>
<line x1="1015.3" y1="69.0" x2="1015.3" y2="73.0" stroke="#6e2448" stroke-width="1.2"/>
<text x="1015.3" y="546" text-anchor="middle" font-size="16.5" fill="#505050" stroke="#505050" stroke-width="0.6">50</text>
<line x1="1077.2" y1="528.3" x2="1077.2" y2="524.3" stroke="#6e2448" stroke-width="1.2"/>
<line x1="1077.2" y1="69.0" x2="1077.2" y2="73.0" stroke="#6e2448" stroke-width="1.2"/>
<text x="1077.2" y="546" text-anchor="middle" font-size="16.5" fill="#505050" stroke="#505050" stroke-width="0.6">60</text>
<line x1="1139.1" y1="528.3" x2="1139.1" y2="524.3" stroke="#6e2448" stroke-width="1.2"/>
<line x1="1139.1" y1="69.0" x2="1139.1" y2="73.0" stroke="#6e2448" stroke-width="1.2"/>
<text x="1139.1" y="546" text-anchor="middle" font-size="16.5" fill="#505050" stroke="#505050" stroke-width="0.6">70</text>
<text x="943.2" y="562.5" text-anchor="middle" font-size="15" fill="#505050" stroke="#505050" stroke-width="0.5" textLength="62.5" lengthAdjust="spacingAndGlyphs">C (Ang.)</text>
<text transform="translate(655.5,299.5) rotate(-90)" text-anchor="middle" font-size="15" fill="#505050" stroke="#505050" stroke-width="0.5" textLength="91" lengthAdjust="spacingAndGlyphs">Energy (eV)</text>
<text x="764.8" y="61.8" font-size="19.5" fill="#333" stroke="#333" stroke-width="0.45" textLength="271" lengthAdjust="spacingAndGlyphs">Device Density of States at V</text>
<text x="1039" y="65.5" font-size="10" font-style="italic" fill="#8a8a8a" textLength="23" lengthAdjust="spacingAndGlyphs">bias</text>
<text x="1069" y="61.8" font-size="19.5" fill="#333" stroke="#333" stroke-width="0.45" textLength="51" lengthAdjust="spacingAndGlyphs">= 0 V</text>
<text x="703" y="21.5" font-size="25.5" fill="#666" textLength="31" lengthAdjust="spacingAndGlyphs">(b)</text>
<linearGradient id="cbgrad" x1="0" y1="89" x2="0" y2="509" gradientUnits="userSpaceOnUse">
<stop offset="0.000" stop-color="#ef4685"/>
<stop offset="0.045" stop-color="#ea4686"/>
<stop offset="0.183" stop-color="#c84688"/>
<stop offset="0.324" stop-color="#a04888"/>
<stop offset="0.467" stop-color="#7e4a8b"/>
<stop offset="0.598" stop-color="#3e4488"/>
<stop offset="0.733" stop-color="#0e3a88"/>
<stop offset="0.867" stop-color="#081878"/>
<stop offset="0.921" stop-color="#060c50"/>
<stop offset="0.957" stop-color="#000000"/>
<stop offset="1.000" stop-color="#000000"/>
</linearGradient>
<path d="M1220.0,69 L1230.5,89.5 L1230.5,508.5 L1220.0,529 L1209.5,508.5 L1209.5,89.5 Z" fill="url(#cbgrad)" stroke="#4a2236" stroke-width="1.2"/>
<path d="M1220.0,69.6 L1229.9,89.5 L1210.1,89.5 Z" fill="#ef4685"/>
<path d="M1220.0,528.4 L1229.9,508.5 L1210.1,508.5 Z" fill="#000"/>
<line x1="1226.5" y1="108.5" x2="1230.5" y2="108.5" stroke="#4a2236" stroke-width="1.2"/>
<text x="1235" y="114.1" font-size="16" fill="#555" stroke="#555" stroke-width="0.75" textLength="43" lengthAdjust="spacingAndGlyphs">0.900</text>
<line x1="1226.5" y1="166.0" x2="1230.5" y2="166.0" stroke="#4a2236" stroke-width="1.2"/>
<text x="1235" y="171.6" font-size="16" fill="#555" stroke="#555" stroke-width="0.75" textLength="43" lengthAdjust="spacingAndGlyphs">0.600</text>
<line x1="1226.5" y1="223.5" x2="1230.5" y2="223.5" stroke="#4a2236" stroke-width="1.2"/>
<text x="1235" y="229.1" font-size="16" fill="#555" stroke="#555" stroke-width="0.75" textLength="43" lengthAdjust="spacingAndGlyphs">0.350</text>
<line x1="1226.5" y1="281.0" x2="1230.5" y2="281.0" stroke="#4a2236" stroke-width="1.2"/>
<text x="1235" y="286.6" font-size="16" fill="#555" stroke="#555" stroke-width="0.75" textLength="43" lengthAdjust="spacingAndGlyphs">0.200</text>
<line x1="1226.5" y1="338.5" x2="1230.5" y2="338.5" stroke="#4a2236" stroke-width="1.2"/>
<text x="1235" y="344.1" font-size="16" fill="#555" stroke="#555" stroke-width="0.75" textLength="43" lengthAdjust="spacingAndGlyphs">0.070</text>
<line x1="1226.5" y1="396.0" x2="1230.5" y2="396.0" stroke="#4a2236" stroke-width="1.2"/>
<text x="1235" y="401.6" font-size="16" fill="#555" stroke="#555" stroke-width="0.75" textLength="43" lengthAdjust="spacingAndGlyphs">0.020</text>
<line x1="1226.5" y1="453.5" x2="1230.5" y2="453.5" stroke="#4a2236" stroke-width="1.2"/>
<text x="1235" y="459.1" font-size="16" fill="#555" stroke="#555" stroke-width="0.75" textLength="43" lengthAdjust="spacingAndGlyphs">0.003</text>
<line x1="1226.5" y1="511.0" x2="1230.5" y2="511.0" stroke="#4a2236" stroke-width="1.2"/>
<text x="1235" y="516.6" font-size="16" fill="#555" stroke="#555" stroke-width="0.75" textLength="43" lengthAdjust="spacingAndGlyphs">0.000</text>
<rect x="693.2" y="581.2" width="327.2" height="32.4" fill="#eaeaea"/>
<rect x="1023.6" y="579.4" width="161.6" height="34.7" fill="#a0c1e7"/>
<text x="858.5" y="605.5" text-anchor="middle" font-size="23" fill="#444" stroke="#444" stroke-width="0.3" textLength="16" lengthAdjust="spacingAndGlyphs">Si</text>
<text x="1104" y="606.3" text-anchor="middle" font-size="20" fill="#ffffff" stroke="#ffffff" stroke-width="0.3" textLength="54" lengthAdjust="spacingAndGlyphs">a-TiSi</text>
</g>
</g>
</svg>
</body></html>
